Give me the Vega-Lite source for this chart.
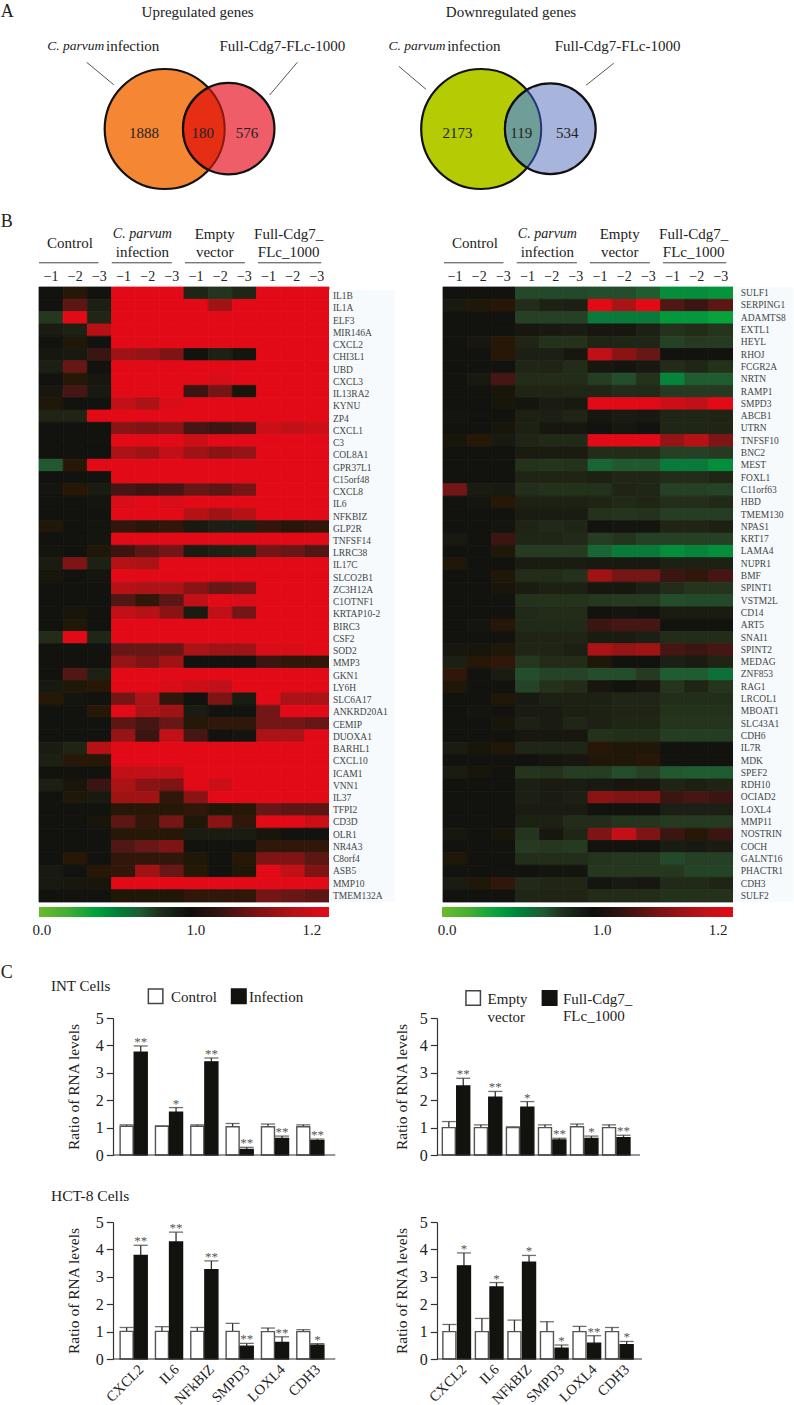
{"$schema":"https://vega.github.io/schema/vega-lite/v6.json","padding":0,"background":"#FFFFFF","bounds":"flush","spacing":0,
"config":{"font":"Liberation Serif","view":{"stroke":null},"axis":{"labelFont":"Liberation Serif","titleFont":"Liberation Serif","labelColor":"#222","titleColor":"#222","domainColor":"#333","tickColor":"#333","grid":false,"titleFontWeight":"normal"},"text":{"font":"Liberation Serif","color":"#222"}},
"datasets":{"heatL":[
{"g":"IL1B","c":1,"v":1},{"g":"IL1B","c":2,"v":1.03},{"g":"IL1B","c":3,"v":1},{"g":"IL1B","c":4,"v":1.2},{"g":"IL1B","c":5,"v":1.2},{"g":"IL1B","c":6,"v":1.2},{"g":"IL1B","c":7,"v":0.93},{"g":"IL1B","c":8,"v":0.87},{"g":"IL1B","c":9,"v":0.92},{"g":"IL1B","c":10,"v":1.2},{"g":"IL1B","c":11,"v":1.2},{"g":"IL1B","c":12,"v":1.2},
{"g":"IL1A","c":1,"v":1},{"g":"IL1A","c":2,"v":1.08},{"g":"IL1A","c":3,"v":0.95},{"g":"IL1A","c":4,"v":1.2},{"g":"IL1A","c":5,"v":1.2},{"g":"IL1A","c":6,"v":1.2},{"g":"IL1A","c":7,"v":1.2},{"g":"IL1A","c":8,"v":1.14},{"g":"IL1A","c":9,"v":1.2},{"g":"IL1A","c":10,"v":1.2},{"g":"IL1A","c":11,"v":1.2},{"g":"IL1A","c":12,"v":1.2},
{"g":"ELF3","c":1,"v":0.86},{"g":"ELF3","c":2,"v":1.2},{"g":"ELF3","c":3,"v":0.92},{"g":"ELF3","c":4,"v":1.2},{"g":"ELF3","c":5,"v":1.2},{"g":"ELF3","c":6,"v":1.2},{"g":"ELF3","c":7,"v":1.2},{"g":"ELF3","c":8,"v":1.2},{"g":"ELF3","c":9,"v":1.2},{"g":"ELF3","c":10,"v":1.2},{"g":"ELF3","c":11,"v":1.2},{"g":"ELF3","c":12,"v":1.2},
{"g":"MIR146A","c":1,"v":0.96},{"g":"MIR146A","c":2,"v":0.94},{"g":"MIR146A","c":3,"v":1.16},{"g":"MIR146A","c":4,"v":1.2},{"g":"MIR146A","c":5,"v":1.2},{"g":"MIR146A","c":6,"v":1.2},{"g":"MIR146A","c":7,"v":1.2},{"g":"MIR146A","c":8,"v":1.2},{"g":"MIR146A","c":9,"v":1.2},{"g":"MIR146A","c":10,"v":1.2},{"g":"MIR146A","c":11,"v":1.2},{"g":"MIR146A","c":12,"v":1.2},
{"g":"CXCL2","c":1,"v":1},{"g":"CXCL2","c":2,"v":1.02},{"g":"CXCL2","c":3,"v":1},{"g":"CXCL2","c":4,"v":1.2},{"g":"CXCL2","c":5,"v":1.2},{"g":"CXCL2","c":6,"v":1.2},{"g":"CXCL2","c":7,"v":1.2},{"g":"CXCL2","c":8,"v":1.2},{"g":"CXCL2","c":9,"v":1.2},{"g":"CXCL2","c":10,"v":1.2},{"g":"CXCL2","c":11,"v":1.2},{"g":"CXCL2","c":12,"v":1.2},
{"g":"CHI3L1","c":1,"v":0.98},{"g":"CHI3L1","c":2,"v":0.97},{"g":"CHI3L1","c":3,"v":1.05},{"g":"CHI3L1","c":4,"v":1.14},{"g":"CHI3L1","c":5,"v":1.13},{"g":"CHI3L1","c":6,"v":1.11},{"g":"CHI3L1","c":7,"v":1},{"g":"CHI3L1","c":8,"v":0.94},{"g":"CHI3L1","c":9,"v":0.99},{"g":"CHI3L1","c":10,"v":1.2},{"g":"CHI3L1","c":11,"v":1.2},{"g":"CHI3L1","c":12,"v":1.2},
{"g":"UBD","c":1,"v":0.95},{"g":"UBD","c":2,"v":1.09},{"g":"UBD","c":3,"v":1},{"g":"UBD","c":4,"v":1.2},{"g":"UBD","c":5,"v":1.2},{"g":"UBD","c":6,"v":1.2},{"g":"UBD","c":7,"v":1.2},{"g":"UBD","c":8,"v":1.2},{"g":"UBD","c":9,"v":1.2},{"g":"UBD","c":10,"v":1.2},{"g":"UBD","c":11,"v":1.2},{"g":"UBD","c":12,"v":1.2},
{"g":"CXCL3","c":1,"v":1},{"g":"CXCL3","c":2,"v":1.03},{"g":"CXCL3","c":3,"v":0.98},{"g":"CXCL3","c":4,"v":1.2},{"g":"CXCL3","c":5,"v":1.2},{"g":"CXCL3","c":6,"v":1.2},{"g":"CXCL3","c":7,"v":1.2},{"g":"CXCL3","c":8,"v":1.19},{"g":"CXCL3","c":9,"v":1.2},{"g":"CXCL3","c":10,"v":1.2},{"g":"CXCL3","c":11,"v":1.2},{"g":"CXCL3","c":12,"v":1.2},
{"g":"IL13RA2","c":1,"v":0.98},{"g":"IL13RA2","c":2,"v":1.06},{"g":"IL13RA2","c":3,"v":0.97},{"g":"IL13RA2","c":4,"v":1.2},{"g":"IL13RA2","c":5,"v":1.2},{"g":"IL13RA2","c":6,"v":1.2},{"g":"IL13RA2","c":7,"v":1.05},{"g":"IL13RA2","c":8,"v":1.1},{"g":"IL13RA2","c":9,"v":1.01},{"g":"IL13RA2","c":10,"v":1.2},{"g":"IL13RA2","c":11,"v":1.2},{"g":"IL13RA2","c":12,"v":1.2},
{"g":"KYNU","c":1,"v":1.02},{"g":"KYNU","c":2,"v":1},{"g":"KYNU","c":3,"v":1},{"g":"KYNU","c":4,"v":1.17},{"g":"KYNU","c":5,"v":1.15},{"g":"KYNU","c":6,"v":1.19},{"g":"KYNU","c":7,"v":1.2},{"g":"KYNU","c":8,"v":1.2},{"g":"KYNU","c":9,"v":1.2},{"g":"KYNU","c":10,"v":1.2},{"g":"KYNU","c":11,"v":1.2},{"g":"KYNU","c":12,"v":1.2},
{"g":"ZP4","c":1,"v":0.93},{"g":"ZP4","c":2,"v":0.93},{"g":"ZP4","c":3,"v":1.2},{"g":"ZP4","c":4,"v":1.2},{"g":"ZP4","c":5,"v":1.2},{"g":"ZP4","c":6,"v":1.2},{"g":"ZP4","c":7,"v":1.2},{"g":"ZP4","c":8,"v":1.2},{"g":"ZP4","c":9,"v":1.2},{"g":"ZP4","c":10,"v":1.2},{"g":"ZP4","c":11,"v":1.2},{"g":"ZP4","c":12,"v":1.2},
{"g":"CXCL1","c":1,"v":1},{"g":"CXCL1","c":2,"v":1},{"g":"CXCL1","c":3,"v":1},{"g":"CXCL1","c":4,"v":1.12},{"g":"CXCL1","c":5,"v":1.11},{"g":"CXCL1","c":6,"v":1.12},{"g":"CXCL1","c":7,"v":1.06},{"g":"CXCL1","c":8,"v":1.05},{"g":"CXCL1","c":9,"v":1.06},{"g":"CXCL1","c":10,"v":1.18},{"g":"CXCL1","c":11,"v":1.17},{"g":"CXCL1","c":12,"v":1.18},
{"g":"C3","c":1,"v":1},{"g":"C3","c":2,"v":1},{"g":"C3","c":3,"v":1},{"g":"C3","c":4,"v":1.2},{"g":"C3","c":5,"v":1.2},{"g":"C3","c":6,"v":1.2},{"g":"C3","c":7,"v":1.18},{"g":"C3","c":8,"v":1.2},{"g":"C3","c":9,"v":1.2},{"g":"C3","c":10,"v":1.2},{"g":"C3","c":11,"v":1.2},{"g":"C3","c":12,"v":1.2},
{"g":"COL8A1","c":1,"v":1},{"g":"COL8A1","c":2,"v":1},{"g":"COL8A1","c":3,"v":1},{"g":"COL8A1","c":4,"v":1.15},{"g":"COL8A1","c":5,"v":1.14},{"g":"COL8A1","c":6,"v":1.17},{"g":"COL8A1","c":7,"v":1.14},{"g":"COL8A1","c":8,"v":1.12},{"g":"COL8A1","c":9,"v":1.13},{"g":"COL8A1","c":10,"v":1.2},{"g":"COL8A1","c":11,"v":1.2},{"g":"COL8A1","c":12,"v":1.2},
{"g":"GPR37L1","c":1,"v":0.72},{"g":"GPR37L1","c":2,"v":1.03},{"g":"GPR37L1","c":3,"v":1.2},{"g":"GPR37L1","c":4,"v":1.2},{"g":"GPR37L1","c":5,"v":1.2},{"g":"GPR37L1","c":6,"v":1.2},{"g":"GPR37L1","c":7,"v":1.2},{"g":"GPR37L1","c":8,"v":1.2},{"g":"GPR37L1","c":9,"v":1.2},{"g":"GPR37L1","c":10,"v":1.2},{"g":"GPR37L1","c":11,"v":1.2},{"g":"GPR37L1","c":12,"v":1.2},
{"g":"C15orf48","c":1,"v":1},{"g":"C15orf48","c":2,"v":1},{"g":"C15orf48","c":3,"v":1},{"g":"C15orf48","c":4,"v":1.2},{"g":"C15orf48","c":5,"v":1.2},{"g":"C15orf48","c":6,"v":1.2},{"g":"C15orf48","c":7,"v":1.2},{"g":"C15orf48","c":8,"v":1.2},{"g":"C15orf48","c":9,"v":1.2},{"g":"C15orf48","c":10,"v":1.2},{"g":"C15orf48","c":11,"v":1.2},{"g":"C15orf48","c":12,"v":1.2},
{"g":"CXCL8","c":1,"v":0.99},{"g":"CXCL8","c":2,"v":1.03},{"g":"CXCL8","c":3,"v":0.96},{"g":"CXCL8","c":4,"v":1.06},{"g":"CXCL8","c":5,"v":1.05},{"g":"CXCL8","c":6,"v":1.06},{"g":"CXCL8","c":7,"v":1.09},{"g":"CXCL8","c":8,"v":1.08},{"g":"CXCL8","c":9,"v":1.1},{"g":"CXCL8","c":10,"v":1.2},{"g":"CXCL8","c":11,"v":1.2},{"g":"CXCL8","c":12,"v":1.2},
{"g":"IL6","c":1,"v":1},{"g":"IL6","c":2,"v":1},{"g":"IL6","c":3,"v":0.99},{"g":"IL6","c":4,"v":1.19},{"g":"IL6","c":5,"v":1.2},{"g":"IL6","c":6,"v":1.19},{"g":"IL6","c":7,"v":1.2},{"g":"IL6","c":8,"v":1.2},{"g":"IL6","c":9,"v":1.2},{"g":"IL6","c":10,"v":1.2},{"g":"IL6","c":11,"v":1.2},{"g":"IL6","c":12,"v":1.2},
{"g":"NFKBIZ","c":1,"v":1},{"g":"NFKBIZ","c":2,"v":1},{"g":"NFKBIZ","c":3,"v":1},{"g":"NFKBIZ","c":4,"v":1.2},{"g":"NFKBIZ","c":5,"v":1.2},{"g":"NFKBIZ","c":6,"v":1.2},{"g":"NFKBIZ","c":7,"v":1.16},{"g":"NFKBIZ","c":8,"v":1.14},{"g":"NFKBIZ","c":9,"v":1.16},{"g":"NFKBIZ","c":10,"v":1.2},{"g":"NFKBIZ","c":11,"v":1.2},{"g":"NFKBIZ","c":12,"v":1.2},
{"g":"GLP2R","c":1,"v":1.02},{"g":"GLP2R","c":2,"v":1},{"g":"GLP2R","c":3,"v":0.99},{"g":"GLP2R","c":4,"v":1.04},{"g":"GLP2R","c":5,"v":1.03},{"g":"GLP2R","c":6,"v":1.04},{"g":"GLP2R","c":7,"v":0.97},{"g":"GLP2R","c":8,"v":0.95},{"g":"GLP2R","c":9,"v":0.95},{"g":"GLP2R","c":10,"v":1.04},{"g":"GLP2R","c":11,"v":1.03},{"g":"GLP2R","c":12,"v":1.04},
{"g":"TNFSF14","c":1,"v":1},{"g":"TNFSF14","c":2,"v":1},{"g":"TNFSF14","c":3,"v":0.99},{"g":"TNFSF14","c":4,"v":1.2},{"g":"TNFSF14","c":5,"v":1.2},{"g":"TNFSF14","c":6,"v":1.2},{"g":"TNFSF14","c":7,"v":1.2},{"g":"TNFSF14","c":8,"v":1.2},{"g":"TNFSF14","c":9,"v":1.2},{"g":"TNFSF14","c":10,"v":1.2},{"g":"TNFSF14","c":11,"v":1.2},{"g":"TNFSF14","c":12,"v":1.2},
{"g":"LRRC38","c":1,"v":0.99},{"g":"LRRC38","c":2,"v":1},{"g":"LRRC38","c":3,"v":1.02},{"g":"LRRC38","c":4,"v":1.05},{"g":"LRRC38","c":5,"v":1.08},{"g":"LRRC38","c":6,"v":1.1},{"g":"LRRC38","c":7,"v":0.96},{"g":"LRRC38","c":8,"v":0.94},{"g":"LRRC38","c":9,"v":0.93},{"g":"LRRC38","c":10,"v":1.1},{"g":"LRRC38","c":11,"v":1.09},{"g":"LRRC38","c":12,"v":1.07},
{"g":"IL17C","c":1,"v":0.96},{"g":"IL17C","c":2,"v":1.11},{"g":"IL17C","c":3,"v":0.94},{"g":"IL17C","c":4,"v":1.16},{"g":"IL17C","c":5,"v":1.15},{"g":"IL17C","c":6,"v":1.2},{"g":"IL17C","c":7,"v":1.2},{"g":"IL17C","c":8,"v":1.2},{"g":"IL17C","c":9,"v":1.2},{"g":"IL17C","c":10,"v":1.2},{"g":"IL17C","c":11,"v":1.2},{"g":"IL17C","c":12,"v":1.2},
{"g":"SLCO2B1","c":1,"v":1.01},{"g":"SLCO2B1","c":2,"v":1},{"g":"SLCO2B1","c":3,"v":0.99},{"g":"SLCO2B1","c":4,"v":1.2},{"g":"SLCO2B1","c":5,"v":1.2},{"g":"SLCO2B1","c":6,"v":1.2},{"g":"SLCO2B1","c":7,"v":1.2},{"g":"SLCO2B1","c":8,"v":1.2},{"g":"SLCO2B1","c":9,"v":1.2},{"g":"SLCO2B1","c":10,"v":1.2},{"g":"SLCO2B1","c":11,"v":1.2},{"g":"SLCO2B1","c":12,"v":1.2},
{"g":"ZC3H12A","c":1,"v":1},{"g":"ZC3H12A","c":2,"v":1},{"g":"ZC3H12A","c":3,"v":1},{"g":"ZC3H12A","c":4,"v":1.16},{"g":"ZC3H12A","c":5,"v":1.15},{"g":"ZC3H12A","c":6,"v":1.15},{"g":"ZC3H12A","c":7,"v":1.12},{"g":"ZC3H12A","c":8,"v":1.09},{"g":"ZC3H12A","c":9,"v":1.1},{"g":"ZC3H12A","c":10,"v":1.2},{"g":"ZC3H12A","c":11,"v":1.2},{"g":"ZC3H12A","c":12,"v":1.2},
{"g":"C1OTNF1","c":1,"v":1},{"g":"C1OTNF1","c":2,"v":1},{"g":"C1OTNF1","c":3,"v":1},{"g":"C1OTNF1","c":4,"v":1.07},{"g":"C1OTNF1","c":5,"v":1.04},{"g":"C1OTNF1","c":6,"v":1.08},{"g":"C1OTNF1","c":7,"v":1.17},{"g":"C1OTNF1","c":8,"v":1.2},{"g":"C1OTNF1","c":9,"v":1.19},{"g":"C1OTNF1","c":10,"v":1.2},{"g":"C1OTNF1","c":11,"v":1.2},{"g":"C1OTNF1","c":12,"v":1.2},
{"g":"KRTAP10-2","c":1,"v":1},{"g":"KRTAP10-2","c":2,"v":1.01},{"g":"KRTAP10-2","c":3,"v":1},{"g":"KRTAP10-2","c":4,"v":1.17},{"g":"KRTAP10-2","c":5,"v":1.16},{"g":"KRTAP10-2","c":6,"v":1.12},{"g":"KRTAP10-2","c":7,"v":0.96},{"g":"KRTAP10-2","c":8,"v":1.17},{"g":"KRTAP10-2","c":9,"v":1.1},{"g":"KRTAP10-2","c":10,"v":1.2},{"g":"KRTAP10-2","c":11,"v":1.2},{"g":"KRTAP10-2","c":12,"v":1.2},
{"g":"BIRC3","c":1,"v":1},{"g":"BIRC3","c":2,"v":1.02},{"g":"BIRC3","c":3,"v":1},{"g":"BIRC3","c":4,"v":1.2},{"g":"BIRC3","c":5,"v":1.2},{"g":"BIRC3","c":6,"v":1.2},{"g":"BIRC3","c":7,"v":1.2},{"g":"BIRC3","c":8,"v":1.2},{"g":"BIRC3","c":9,"v":1.2},{"g":"BIRC3","c":10,"v":1.2},{"g":"BIRC3","c":11,"v":1.2},{"g":"BIRC3","c":12,"v":1.2},
{"g":"CSF2","c":1,"v":0.9},{"g":"CSF2","c":2,"v":1.2},{"g":"CSF2","c":3,"v":0.92},{"g":"CSF2","c":4,"v":1.2},{"g":"CSF2","c":5,"v":1.2},{"g":"CSF2","c":6,"v":1.2},{"g":"CSF2","c":7,"v":1.2},{"g":"CSF2","c":8,"v":1.2},{"g":"CSF2","c":9,"v":1.2},{"g":"CSF2","c":10,"v":1.2},{"g":"CSF2","c":11,"v":1.2},{"g":"CSF2","c":12,"v":1.2},
{"g":"SOD2","c":1,"v":1},{"g":"SOD2","c":2,"v":1},{"g":"SOD2","c":3,"v":1},{"g":"SOD2","c":4,"v":1.09},{"g":"SOD2","c":5,"v":1.09},{"g":"SOD2","c":6,"v":1.09},{"g":"SOD2","c":7,"v":1.15},{"g":"SOD2","c":8,"v":1.14},{"g":"SOD2","c":9,"v":1.14},{"g":"SOD2","c":10,"v":1.19},{"g":"SOD2","c":11,"v":1.19},{"g":"SOD2","c":12,"v":1.2},
{"g":"MMP3","c":1,"v":1},{"g":"MMP3","c":2,"v":1},{"g":"MMP3","c":3,"v":1},{"g":"MMP3","c":4,"v":1.13},{"g":"MMP3","c":5,"v":1.11},{"g":"MMP3","c":6,"v":1.14},{"g":"MMP3","c":7,"v":1},{"g":"MMP3","c":8,"v":1},{"g":"MMP3","c":9,"v":1},{"g":"MMP3","c":10,"v":1.05},{"g":"MMP3","c":11,"v":1.04},{"g":"MMP3","c":12,"v":1.04},
{"g":"GKN1","c":1,"v":1},{"g":"GKN1","c":2,"v":1.07},{"g":"GKN1","c":3,"v":0.94},{"g":"GKN1","c":4,"v":1.2},{"g":"GKN1","c":5,"v":1.2},{"g":"GKN1","c":6,"v":1.2},{"g":"GKN1","c":7,"v":1.2},{"g":"GKN1","c":8,"v":1.2},{"g":"GKN1","c":9,"v":1.2},{"g":"GKN1","c":10,"v":1.2},{"g":"GKN1","c":11,"v":1.2},{"g":"GKN1","c":12,"v":1.2},
{"g":"LY6H","c":1,"v":0.97},{"g":"LY6H","c":2,"v":1.02},{"g":"LY6H","c":3,"v":1.03},{"g":"LY6H","c":4,"v":1.2},{"g":"LY6H","c":5,"v":1.2},{"g":"LY6H","c":6,"v":1.19},{"g":"LY6H","c":7,"v":1.18},{"g":"LY6H","c":8,"v":1.17},{"g":"LY6H","c":9,"v":1.2},{"g":"LY6H","c":10,"v":1.2},{"g":"LY6H","c":11,"v":1.2},{"g":"LY6H","c":12,"v":1.2},
{"g":"SLC6A17","c":1,"v":1.03},{"g":"SLC6A17","c":2,"v":0.99},{"g":"SLC6A17","c":3,"v":1},{"g":"SLC6A17","c":4,"v":1.1},{"g":"SLC6A17","c":5,"v":1.15},{"g":"SLC6A17","c":6,"v":1.04},{"g":"SLC6A17","c":7,"v":1},{"g":"SLC6A17","c":8,"v":1.11},{"g":"SLC6A17","c":9,"v":0.96},{"g":"SLC6A17","c":10,"v":1.2},{"g":"SLC6A17","c":11,"v":1.15},{"g":"SLC6A17","c":12,"v":1.15},
{"g":"ANKRD20A1","c":1,"v":1},{"g":"ANKRD20A1","c":2,"v":1},{"g":"ANKRD20A1","c":3,"v":1.03},{"g":"ANKRD20A1","c":4,"v":1.2},{"g":"ANKRD20A1","c":5,"v":1.15},{"g":"ANKRD20A1","c":6,"v":1.14},{"g":"ANKRD20A1","c":7,"v":0.96},{"g":"ANKRD20A1","c":8,"v":1},{"g":"ANKRD20A1","c":9,"v":1},{"g":"ANKRD20A1","c":10,"v":1.1},{"g":"ANKRD20A1","c":11,"v":1.2},{"g":"ANKRD20A1","c":12,"v":1.2},
{"g":"CEMIP","c":1,"v":1},{"g":"CEMIP","c":2,"v":1},{"g":"CEMIP","c":3,"v":1},{"g":"CEMIP","c":4,"v":1.08},{"g":"CEMIP","c":5,"v":1.06},{"g":"CEMIP","c":6,"v":1.09},{"g":"CEMIP","c":7,"v":1.03},{"g":"CEMIP","c":8,"v":1.04},{"g":"CEMIP","c":9,"v":1.04},{"g":"CEMIP","c":10,"v":1.1},{"g":"CEMIP","c":11,"v":1.1},{"g":"CEMIP","c":12,"v":1.09},
{"g":"DUOXA1","c":1,"v":1},{"g":"DUOXA1","c":2,"v":1},{"g":"DUOXA1","c":3,"v":1},{"g":"DUOXA1","c":4,"v":1.13},{"g":"DUOXA1","c":5,"v":1.05},{"g":"DUOXA1","c":6,"v":1.17},{"g":"DUOXA1","c":7,"v":1.06},{"g":"DUOXA1","c":8,"v":1},{"g":"DUOXA1","c":9,"v":0.99},{"g":"DUOXA1","c":10,"v":1.15},{"g":"DUOXA1","c":11,"v":1.15},{"g":"DUOXA1","c":12,"v":1.2},
{"g":"BARHL1","c":1,"v":0.96},{"g":"BARHL1","c":2,"v":0.93},{"g":"BARHL1","c":3,"v":1.16},{"g":"BARHL1","c":4,"v":1.2},{"g":"BARHL1","c":5,"v":1.2},{"g":"BARHL1","c":6,"v":1.2},{"g":"BARHL1","c":7,"v":1.2},{"g":"BARHL1","c":8,"v":1.2},{"g":"BARHL1","c":9,"v":1.2},{"g":"BARHL1","c":10,"v":1.2},{"g":"BARHL1","c":11,"v":1.2},{"g":"BARHL1","c":12,"v":1.2},
{"g":"CXCL10","c":1,"v":0.95},{"g":"CXCL10","c":2,"v":1.03},{"g":"CXCL10","c":3,"v":1.03},{"g":"CXCL10","c":4,"v":1.2},{"g":"CXCL10","c":5,"v":1.2},{"g":"CXCL10","c":6,"v":1.2},{"g":"CXCL10","c":7,"v":1.2},{"g":"CXCL10","c":8,"v":1.2},{"g":"CXCL10","c":9,"v":1.2},{"g":"CXCL10","c":10,"v":1.2},{"g":"CXCL10","c":11,"v":1.2},{"g":"CXCL10","c":12,"v":1.2},
{"g":"ICAM1","c":1,"v":1},{"g":"ICAM1","c":2,"v":1},{"g":"ICAM1","c":3,"v":1},{"g":"ICAM1","c":4,"v":1.17},{"g":"ICAM1","c":5,"v":1.17},{"g":"ICAM1","c":6,"v":1.17},{"g":"ICAM1","c":7,"v":1.2},{"g":"ICAM1","c":8,"v":1.2},{"g":"ICAM1","c":9,"v":1.2},{"g":"ICAM1","c":10,"v":1.2},{"g":"ICAM1","c":11,"v":1.2},{"g":"ICAM1","c":12,"v":1.2},
{"g":"VNN1","c":1,"v":0.95},{"g":"VNN1","c":2,"v":1.01},{"g":"VNN1","c":3,"v":1.05},{"g":"VNN1","c":4,"v":1.15},{"g":"VNN1","c":5,"v":1.12},{"g":"VNN1","c":6,"v":1.11},{"g":"VNN1","c":7,"v":1.2},{"g":"VNN1","c":8,"v":1.18},{"g":"VNN1","c":9,"v":1.2},{"g":"VNN1","c":10,"v":1.2},{"g":"VNN1","c":11,"v":1.2},{"g":"VNN1","c":12,"v":1.2},
{"g":"IL37","c":1,"v":1},{"g":"IL37","c":2,"v":1.02},{"g":"IL37","c":3,"v":0.97},{"g":"IL37","c":4,"v":1.14},{"g":"IL37","c":5,"v":1.14},{"g":"IL37","c":6,"v":1.04},{"g":"IL37","c":7,"v":1.12},{"g":"IL37","c":8,"v":1.2},{"g":"IL37","c":9,"v":1.2},{"g":"IL37","c":10,"v":1.2},{"g":"IL37","c":11,"v":1.2},{"g":"IL37","c":12,"v":1.2},
{"g":"TFPI2","c":1,"v":1},{"g":"TFPI2","c":2,"v":1},{"g":"TFPI2","c":3,"v":1},{"g":"TFPI2","c":4,"v":1.03},{"g":"TFPI2","c":5,"v":1.03},{"g":"TFPI2","c":6,"v":1.03},{"g":"TFPI2","c":7,"v":1.04},{"g":"TFPI2","c":8,"v":1.02},{"g":"TFPI2","c":9,"v":1.03},{"g":"TFPI2","c":10,"v":1.09},{"g":"TFPI2","c":11,"v":1.08},{"g":"TFPI2","c":12,"v":1.08},
{"g":"CD3D","c":1,"v":1},{"g":"CD3D","c":2,"v":1},{"g":"CD3D","c":3,"v":1.01},{"g":"CD3D","c":4,"v":1.08},{"g":"CD3D","c":5,"v":1.04},{"g":"CD3D","c":6,"v":1.1},{"g":"CD3D","c":7,"v":1.02},{"g":"CD3D","c":8,"v":1.12},{"g":"CD3D","c":9,"v":1.04},{"g":"CD3D","c":10,"v":1.2},{"g":"CD3D","c":11,"v":1.2},{"g":"CD3D","c":12,"v":1.18},
{"g":"OLR1","c":1,"v":1},{"g":"OLR1","c":2,"v":1},{"g":"OLR1","c":3,"v":1},{"g":"OLR1","c":4,"v":1.03},{"g":"OLR1","c":5,"v":1.03},{"g":"OLR1","c":6,"v":1.03},{"g":"OLR1","c":7,"v":0.96},{"g":"OLR1","c":8,"v":0.96},{"g":"OLR1","c":9,"v":0.96},{"g":"OLR1","c":10,"v":1.01},{"g":"OLR1","c":11,"v":1},{"g":"OLR1","c":12,"v":1},
{"g":"NR4A3","c":1,"v":1},{"g":"NR4A3","c":2,"v":1},{"g":"NR4A3","c":3,"v":1},{"g":"NR4A3","c":4,"v":1.07},{"g":"NR4A3","c":5,"v":1.09},{"g":"NR4A3","c":6,"v":1.11},{"g":"NR4A3","c":7,"v":1},{"g":"NR4A3","c":8,"v":1},{"g":"NR4A3","c":9,"v":1},{"g":"NR4A3","c":10,"v":1.04},{"g":"NR4A3","c":11,"v":1.04},{"g":"NR4A3","c":12,"v":1.04},
{"g":"C8orf4","c":1,"v":1},{"g":"C8orf4","c":2,"v":1.03},{"g":"C8orf4","c":3,"v":1},{"g":"C8orf4","c":4,"v":1.04},{"g":"C8orf4","c":5,"v":1.04},{"g":"C8orf4","c":6,"v":1.04},{"g":"C8orf4","c":7,"v":1.02},{"g":"C8orf4","c":8,"v":1},{"g":"C8orf4","c":9,"v":1.03},{"g":"C8orf4","c":10,"v":1.11},{"g":"C8orf4","c":11,"v":1.11},{"g":"C8orf4","c":12,"v":1.08},
{"g":"ASB5","c":1,"v":0.97},{"g":"ASB5","c":2,"v":1},{"g":"ASB5","c":3,"v":1.03},{"g":"ASB5","c":4,"v":1.04},{"g":"ASB5","c":5,"v":1.14},{"g":"ASB5","c":6,"v":1.09},{"g":"ASB5","c":7,"v":1.03},{"g":"ASB5","c":8,"v":1},{"g":"ASB5","c":9,"v":1.02},{"g":"ASB5","c":10,"v":1.2},{"g":"ASB5","c":11,"v":1.17},{"g":"ASB5","c":12,"v":1.11},
{"g":"MMP10","c":1,"v":0.97},{"g":"MMP10","c":2,"v":0.98},{"g":"MMP10","c":3,"v":1.01},{"g":"MMP10","c":4,"v":1.2},{"g":"MMP10","c":5,"v":1.2},{"g":"MMP10","c":6,"v":1.2},{"g":"MMP10","c":7,"v":1.2},{"g":"MMP10","c":8,"v":1.2},{"g":"MMP10","c":9,"v":1.2},{"g":"MMP10","c":10,"v":1.2},{"g":"MMP10","c":11,"v":1.2},{"g":"MMP10","c":12,"v":1.2},
{"g":"TMEM132A","c":1,"v":1},{"g":"TMEM132A","c":2,"v":1},{"g":"TMEM132A","c":3,"v":1},{"g":"TMEM132A","c":4,"v":1.02},{"g":"TMEM132A","c":5,"v":1.02},{"g":"TMEM132A","c":6,"v":1.02},{"g":"TMEM132A","c":7,"v":1.04},{"g":"TMEM132A","c":8,"v":1.04},{"g":"TMEM132A","c":9,"v":1.04},{"g":"TMEM132A","c":10,"v":1.1},{"g":"TMEM132A","c":11,"v":1.09},{"g":"TMEM132A","c":12,"v":1.08}],
"heatR":[
{"g":"SULF1","c":1,"v":1},{"g":"SULF1","c":2,"v":1},{"g":"SULF1","c":3,"v":1},{"g":"SULF1","c":4,"v":0.8},{"g":"SULF1","c":5,"v":0.8},{"g":"SULF1","c":6,"v":0.8},{"g":"SULF1","c":7,"v":0.78},{"g":"SULF1","c":8,"v":0.78},{"g":"SULF1","c":9,"v":0.7},{"g":"SULF1","c":10,"v":0.45},{"g":"SULF1","c":11,"v":0.45},{"g":"SULF1","c":12,"v":0.42},
{"g":"SERPING1","c":1,"v":0.97},{"g":"SERPING1","c":2,"v":1.02},{"g":"SERPING1","c":3,"v":1.03},{"g":"SERPING1","c":4,"v":0.9},{"g":"SERPING1","c":5,"v":0.94},{"g":"SERPING1","c":6,"v":0.95},{"g":"SERPING1","c":7,"v":1.2},{"g":"SERPING1","c":8,"v":1.15},{"g":"SERPING1","c":9,"v":1.2},{"g":"SERPING1","c":10,"v":1.07},{"g":"SERPING1","c":11,"v":1.05},{"g":"SERPING1","c":12,"v":1.08},
{"g":"ADAMTS8","c":1,"v":1},{"g":"ADAMTS8","c":2,"v":1},{"g":"ADAMTS8","c":3,"v":1},{"g":"ADAMTS8","c":4,"v":0.83},{"g":"ADAMTS8","c":5,"v":0.83},{"g":"ADAMTS8","c":6,"v":0.83},{"g":"ADAMTS8","c":7,"v":0.55},{"g":"ADAMTS8","c":8,"v":0.55},{"g":"ADAMTS8","c":9,"v":0.55},{"g":"ADAMTS8","c":10,"v":0.4},{"g":"ADAMTS8","c":11,"v":0.4},{"g":"ADAMTS8","c":12,"v":0.35},
{"g":"EXTL1","c":1,"v":1},{"g":"EXTL1","c":2,"v":1},{"g":"EXTL1","c":3,"v":1},{"g":"EXTL1","c":4,"v":0.98},{"g":"EXTL1","c":5,"v":0.97},{"g":"EXTL1","c":6,"v":0.96},{"g":"EXTL1","c":7,"v":0.98},{"g":"EXTL1","c":8,"v":0.98},{"g":"EXTL1","c":9,"v":0.94},{"g":"EXTL1","c":10,"v":0.88},{"g":"EXTL1","c":11,"v":0.9},{"g":"EXTL1","c":12,"v":0.87},
{"g":"HEYL","c":1,"v":1},{"g":"HEYL","c":2,"v":0.98},{"g":"HEYL","c":3,"v":1.03},{"g":"HEYL","c":4,"v":0.93},{"g":"HEYL","c":5,"v":0.88},{"g":"HEYL","c":6,"v":0.88},{"g":"HEYL","c":7,"v":0.93},{"g":"HEYL","c":8,"v":0.92},{"g":"HEYL","c":9,"v":0.92},{"g":"HEYL","c":10,"v":0.83},{"g":"HEYL","c":11,"v":0.85},{"g":"HEYL","c":12,"v":0.85},
{"g":"RHOJ","c":1,"v":1},{"g":"RHOJ","c":2,"v":1},{"g":"RHOJ","c":3,"v":1.03},{"g":"RHOJ","c":4,"v":0.95},{"g":"RHOJ","c":5,"v":0.95},{"g":"RHOJ","c":6,"v":0.98},{"g":"RHOJ","c":7,"v":1.17},{"g":"RHOJ","c":8,"v":1.12},{"g":"RHOJ","c":9,"v":1.09},{"g":"RHOJ","c":10,"v":1},{"g":"RHOJ","c":11,"v":1},{"g":"RHOJ","c":12,"v":1},
{"g":"FCGR2A","c":1,"v":1},{"g":"FCGR2A","c":2,"v":1},{"g":"FCGR2A","c":3,"v":1},{"g":"FCGR2A","c":4,"v":0.92},{"g":"FCGR2A","c":5,"v":0.93},{"g":"FCGR2A","c":6,"v":0.9},{"g":"FCGR2A","c":7,"v":0.98},{"g":"FCGR2A","c":8,"v":0.99},{"g":"FCGR2A","c":9,"v":0.97},{"g":"FCGR2A","c":10,"v":0.9},{"g":"FCGR2A","c":11,"v":0.92},{"g":"FCGR2A","c":12,"v":0.88},
{"g":"NRTN","c":1,"v":1},{"g":"NRTN","c":2,"v":0.97},{"g":"NRTN","c":3,"v":1.06},{"g":"NRTN","c":4,"v":0.9},{"g":"NRTN","c":5,"v":0.9},{"g":"NRTN","c":6,"v":0.9},{"g":"NRTN","c":7,"v":0.84},{"g":"NRTN","c":8,"v":0.78},{"g":"NRTN","c":9,"v":0.88},{"g":"NRTN","c":10,"v":0.5},{"g":"NRTN","c":11,"v":0.7},{"g":"NRTN","c":12,"v":0.7},
{"g":"RAMP1","c":1,"v":1},{"g":"RAMP1","c":2,"v":1},{"g":"RAMP1","c":3,"v":1.01},{"g":"RAMP1","c":4,"v":0.93},{"g":"RAMP1","c":5,"v":0.93},{"g":"RAMP1","c":6,"v":0.92},{"g":"RAMP1","c":7,"v":0.92},{"g":"RAMP1","c":8,"v":0.9},{"g":"RAMP1","c":9,"v":0.91},{"g":"RAMP1","c":10,"v":0.85},{"g":"RAMP1","c":11,"v":0.85},{"g":"RAMP1","c":12,"v":0.85},
{"g":"SMPD3","c":1,"v":1},{"g":"SMPD3","c":2,"v":1},{"g":"SMPD3","c":3,"v":1.01},{"g":"SMPD3","c":4,"v":0.99},{"g":"SMPD3","c":5,"v":0.96},{"g":"SMPD3","c":6,"v":0.97},{"g":"SMPD3","c":7,"v":1.2},{"g":"SMPD3","c":8,"v":1.2},{"g":"SMPD3","c":9,"v":1.2},{"g":"SMPD3","c":10,"v":1.18},{"g":"SMPD3","c":11,"v":1.17},{"g":"SMPD3","c":12,"v":1.2},
{"g":"ABCB1","c":1,"v":0.99},{"g":"ABCB1","c":2,"v":1},{"g":"ABCB1","c":3,"v":1},{"g":"ABCB1","c":4,"v":0.94},{"g":"ABCB1","c":5,"v":0.95},{"g":"ABCB1","c":6,"v":0.93},{"g":"ABCB1","c":7,"v":0.98},{"g":"ABCB1","c":8,"v":0.96},{"g":"ABCB1","c":9,"v":0.97},{"g":"ABCB1","c":10,"v":0.92},{"g":"ABCB1","c":11,"v":0.92},{"g":"ABCB1","c":12,"v":0.93},
{"g":"UTRN","c":1,"v":1},{"g":"UTRN","c":2,"v":1},{"g":"UTRN","c":3,"v":1.01},{"g":"UTRN","c":4,"v":0.94},{"g":"UTRN","c":5,"v":0.98},{"g":"UTRN","c":6,"v":0.98},{"g":"UTRN","c":7,"v":1},{"g":"UTRN","c":8,"v":0.98},{"g":"UTRN","c":9,"v":1},{"g":"UTRN","c":10,"v":0.92},{"g":"UTRN","c":11,"v":0.92},{"g":"UTRN","c":12,"v":0.93},
{"g":"TNFSF10","c":1,"v":1.01},{"g":"TNFSF10","c":2,"v":1.03},{"g":"TNFSF10","c":3,"v":0.97},{"g":"TNFSF10","c":4,"v":0.93},{"g":"TNFSF10","c":5,"v":0.91},{"g":"TNFSF10","c":6,"v":0.91},{"g":"TNFSF10","c":7,"v":1.2},{"g":"TNFSF10","c":8,"v":1.2},{"g":"TNFSF10","c":9,"v":1.2},{"g":"TNFSF10","c":10,"v":1.13},{"g":"TNFSF10","c":11,"v":1.16},{"g":"TNFSF10","c":12,"v":1.11},
{"g":"BNC2","c":1,"v":1},{"g":"BNC2","c":2,"v":1},{"g":"BNC2","c":3,"v":1},{"g":"BNC2","c":4,"v":0.96},{"g":"BNC2","c":5,"v":0.96},{"g":"BNC2","c":6,"v":0.96},{"g":"BNC2","c":7,"v":0.9},{"g":"BNC2","c":8,"v":0.9},{"g":"BNC2","c":9,"v":0.9},{"g":"BNC2","c":10,"v":0.83},{"g":"BNC2","c":11,"v":0.83},{"g":"BNC2","c":12,"v":0.85},
{"g":"MEST","c":1,"v":1},{"g":"MEST","c":2,"v":1},{"g":"MEST","c":3,"v":1},{"g":"MEST","c":4,"v":0.88},{"g":"MEST","c":5,"v":0.87},{"g":"MEST","c":6,"v":0.88},{"g":"MEST","c":7,"v":0.65},{"g":"MEST","c":8,"v":0.72},{"g":"MEST","c":9,"v":0.72},{"g":"MEST","c":10,"v":0.55},{"g":"MEST","c":11,"v":0.55},{"g":"MEST","c":12,"v":0.45},
{"g":"FOXL1","c":1,"v":1},{"g":"FOXL1","c":2,"v":1},{"g":"FOXL1","c":3,"v":1},{"g":"FOXL1","c":4,"v":0.93},{"g":"FOXL1","c":5,"v":0.93},{"g":"FOXL1","c":6,"v":0.93},{"g":"FOXL1","c":7,"v":0.94},{"g":"FOXL1","c":8,"v":0.92},{"g":"FOXL1","c":9,"v":0.92},{"g":"FOXL1","c":10,"v":0.9},{"g":"FOXL1","c":11,"v":0.9},{"g":"FOXL1","c":12,"v":0.92},
{"g":"C11orf63","c":1,"v":1.1},{"g":"C11orf63","c":2,"v":0.96},{"g":"C11orf63","c":3,"v":0.97},{"g":"C11orf63","c":4,"v":0.89},{"g":"C11orf63","c":5,"v":0.88},{"g":"C11orf63","c":6,"v":0.88},{"g":"C11orf63","c":7,"v":0.88},{"g":"C11orf63","c":8,"v":0.93},{"g":"C11orf63","c":9,"v":0.92},{"g":"C11orf63","c":10,"v":0.83},{"g":"C11orf63","c":11,"v":0.83},{"g":"C11orf63","c":12,"v":0.82},
{"g":"HBD","c":1,"v":1},{"g":"HBD","c":2,"v":0.99},{"g":"HBD","c":3,"v":1.03},{"g":"HBD","c":4,"v":0.94},{"g":"HBD","c":5,"v":0.94},{"g":"HBD","c":6,"v":0.94},{"g":"HBD","c":7,"v":0.93},{"g":"HBD","c":8,"v":0.91},{"g":"HBD","c":9,"v":0.92},{"g":"HBD","c":10,"v":0.89},{"g":"HBD","c":11,"v":0.89},{"g":"HBD","c":12,"v":0.91},
{"g":"TMEM130","c":1,"v":1},{"g":"TMEM130","c":2,"v":1},{"g":"TMEM130","c":3,"v":1},{"g":"TMEM130","c":4,"v":0.96},{"g":"TMEM130","c":5,"v":0.96},{"g":"TMEM130","c":6,"v":0.96},{"g":"TMEM130","c":7,"v":0.88},{"g":"TMEM130","c":8,"v":0.87},{"g":"TMEM130","c":9,"v":0.88},{"g":"TMEM130","c":10,"v":0.84},{"g":"TMEM130","c":11,"v":0.84},{"g":"TMEM130","c":12,"v":0.84},
{"g":"NPAS1","c":1,"v":1},{"g":"NPAS1","c":2,"v":1},{"g":"NPAS1","c":3,"v":0.99},{"g":"NPAS1","c":4,"v":0.93},{"g":"NPAS1","c":5,"v":0.91},{"g":"NPAS1","c":6,"v":0.92},{"g":"NPAS1","c":7,"v":1},{"g":"NPAS1","c":8,"v":0.99},{"g":"NPAS1","c":9,"v":0.99},{"g":"NPAS1","c":10,"v":0.93},{"g":"NPAS1","c":11,"v":0.93},{"g":"NPAS1","c":12,"v":0.94},
{"g":"KRT17","c":1,"v":0.97},{"g":"KRT17","c":2,"v":1},{"g":"KRT17","c":3,"v":1.05},{"g":"KRT17","c":4,"v":0.92},{"g":"KRT17","c":5,"v":0.92},{"g":"KRT17","c":6,"v":0.91},{"g":"KRT17","c":7,"v":0.84},{"g":"KRT17","c":8,"v":0.87},{"g":"KRT17","c":9,"v":0.83},{"g":"KRT17","c":10,"v":0.83},{"g":"KRT17","c":11,"v":0.83},{"g":"KRT17","c":12,"v":0.83},
{"g":"LAMA4","c":1,"v":1},{"g":"LAMA4","c":2,"v":1},{"g":"LAMA4","c":3,"v":1.02},{"g":"LAMA4","c":4,"v":0.85},{"g":"LAMA4","c":5,"v":0.85},{"g":"LAMA4","c":6,"v":0.85},{"g":"LAMA4","c":7,"v":0.65},{"g":"LAMA4","c":8,"v":0.55},{"g":"LAMA4","c":9,"v":0.55},{"g":"LAMA4","c":10,"v":0.45},{"g":"LAMA4","c":11,"v":0.5},{"g":"LAMA4","c":12,"v":0.45},
{"g":"NUPR1","c":1,"v":1.02},{"g":"NUPR1","c":2,"v":1},{"g":"NUPR1","c":3,"v":1},{"g":"NUPR1","c":4,"v":0.96},{"g":"NUPR1","c":5,"v":0.96},{"g":"NUPR1","c":6,"v":0.96},{"g":"NUPR1","c":7,"v":0.97},{"g":"NUPR1","c":8,"v":0.97},{"g":"NUPR1","c":9,"v":0.97},{"g":"NUPR1","c":10,"v":0.94},{"g":"NUPR1","c":11,"v":0.94},{"g":"NUPR1","c":12,"v":0.94},
{"g":"BMF","c":1,"v":1},{"g":"BMF","c":2,"v":1},{"g":"BMF","c":3,"v":1.02},{"g":"BMF","c":4,"v":0.9},{"g":"BMF","c":5,"v":0.9},{"g":"BMF","c":6,"v":0.88},{"g":"BMF","c":7,"v":1.14},{"g":"BMF","c":8,"v":1.1},{"g":"BMF","c":9,"v":1.1},{"g":"BMF","c":10,"v":1.05},{"g":"BMF","c":11,"v":1.04},{"g":"BMF","c":12,"v":1.06},
{"g":"SPINT1","c":1,"v":1},{"g":"SPINT1","c":2,"v":1},{"g":"SPINT1","c":3,"v":1.01},{"g":"SPINT1","c":4,"v":0.96},{"g":"SPINT1","c":5,"v":0.94},{"g":"SPINT1","c":6,"v":0.94},{"g":"SPINT1","c":7,"v":0.98},{"g":"SPINT1","c":8,"v":0.98},{"g":"SPINT1","c":9,"v":0.95},{"g":"SPINT1","c":10,"v":0.9},{"g":"SPINT1","c":11,"v":0.87},{"g":"SPINT1","c":12,"v":0.87},
{"g":"VSTM2L","c":1,"v":1},{"g":"VSTM2L","c":2,"v":1},{"g":"VSTM2L","c":3,"v":1},{"g":"VSTM2L","c":4,"v":0.88},{"g":"VSTM2L","c":5,"v":0.88},{"g":"VSTM2L","c":6,"v":0.88},{"g":"VSTM2L","c":7,"v":0.86},{"g":"VSTM2L","c":8,"v":0.85},{"g":"VSTM2L","c":9,"v":0.85},{"g":"VSTM2L","c":10,"v":0.78},{"g":"VSTM2L","c":11,"v":0.8},{"g":"VSTM2L","c":12,"v":0.8},
{"g":"CD14","c":1,"v":1},{"g":"CD14","c":2,"v":1},{"g":"CD14","c":3,"v":1},{"g":"CD14","c":4,"v":0.91},{"g":"CD14","c":5,"v":0.9},{"g":"CD14","c":6,"v":0.9},{"g":"CD14","c":7,"v":1},{"g":"CD14","c":8,"v":0.99},{"g":"CD14","c":9,"v":1},{"g":"CD14","c":10,"v":0.96},{"g":"CD14","c":11,"v":0.96},{"g":"CD14","c":12,"v":0.96},
{"g":"ART5","c":1,"v":1},{"g":"ART5","c":2,"v":0.99},{"g":"ART5","c":3,"v":1.03},{"g":"ART5","c":4,"v":0.91},{"g":"ART5","c":5,"v":0.91},{"g":"ART5","c":6,"v":0.91},{"g":"ART5","c":7,"v":1.05},{"g":"ART5","c":8,"v":1.06},{"g":"ART5","c":9,"v":1.06},{"g":"ART5","c":10,"v":1},{"g":"ART5","c":11,"v":1},{"g":"ART5","c":12,"v":1},
{"g":"SNAI1","c":1,"v":1},{"g":"SNAI1","c":2,"v":1},{"g":"SNAI1","c":3,"v":1},{"g":"SNAI1","c":4,"v":0.93},{"g":"SNAI1","c":5,"v":0.93},{"g":"SNAI1","c":6,"v":0.93},{"g":"SNAI1","c":7,"v":0.96},{"g":"SNAI1","c":8,"v":0.96},{"g":"SNAI1","c":9,"v":0.95},{"g":"SNAI1","c":10,"v":0.9},{"g":"SNAI1","c":11,"v":0.9},{"g":"SNAI1","c":12,"v":0.9},
{"g":"SPINT2","c":1,"v":0.98},{"g":"SPINT2","c":2,"v":1.01},{"g":"SPINT2","c":3,"v":1.02},{"g":"SPINT2","c":4,"v":0.93},{"g":"SPINT2","c":5,"v":0.93},{"g":"SPINT2","c":6,"v":0.95},{"g":"SPINT2","c":7,"v":1.15},{"g":"SPINT2","c":8,"v":1.13},{"g":"SPINT2","c":9,"v":1.14},{"g":"SPINT2","c":10,"v":1.06},{"g":"SPINT2","c":11,"v":1.05},{"g":"SPINT2","c":12,"v":1.06},
{"g":"MEDAG","c":1,"v":0.95},{"g":"MEDAG","c":2,"v":1.03},{"g":"MEDAG","c":3,"v":1.04},{"g":"MEDAG","c":4,"v":0.86},{"g":"MEDAG","c":5,"v":0.9},{"g":"MEDAG","c":6,"v":0.9},{"g":"MEDAG","c":7,"v":1.02},{"g":"MEDAG","c":8,"v":1},{"g":"MEDAG","c":9,"v":1},{"g":"MEDAG","c":10,"v":0.95},{"g":"MEDAG","c":11,"v":0.96},{"g":"MEDAG","c":12,"v":0.93},
{"g":"ZNF853","c":1,"v":1.04},{"g":"ZNF853","c":2,"v":1},{"g":"ZNF853","c":3,"v":0.96},{"g":"ZNF853","c":4,"v":0.78},{"g":"ZNF853","c":5,"v":0.82},{"g":"ZNF853","c":6,"v":0.82},{"g":"ZNF853","c":7,"v":0.78},{"g":"ZNF853","c":8,"v":0.78},{"g":"ZNF853","c":9,"v":0.85},{"g":"ZNF853","c":10,"v":0.7},{"g":"ZNF853","c":11,"v":0.7},{"g":"ZNF853","c":12,"v":0.6},
{"g":"RAG1","c":1,"v":1.02},{"g":"RAG1","c":2,"v":1},{"g":"RAG1","c":3,"v":1},{"g":"RAG1","c":4,"v":0.82},{"g":"RAG1","c":5,"v":0.88},{"g":"RAG1","c":6,"v":0.9},{"g":"RAG1","c":7,"v":0.98},{"g":"RAG1","c":8,"v":1},{"g":"RAG1","c":9,"v":0.98},{"g":"RAG1","c":10,"v":0.87},{"g":"RAG1","c":11,"v":0.93},{"g":"RAG1","c":12,"v":0.87},
{"g":"LRCOL1","c":1,"v":1},{"g":"LRCOL1","c":2,"v":1},{"g":"LRCOL1","c":3,"v":1.02},{"g":"LRCOL1","c":4,"v":0.97},{"g":"LRCOL1","c":5,"v":0.94},{"g":"LRCOL1","c":6,"v":0.94},{"g":"LRCOL1","c":7,"v":0.94},{"g":"LRCOL1","c":8,"v":0.92},{"g":"LRCOL1","c":9,"v":0.92},{"g":"LRCOL1","c":10,"v":0.89},{"g":"LRCOL1","c":11,"v":0.89},{"g":"LRCOL1","c":12,"v":0.89},
{"g":"MBOAT1","c":1,"v":1},{"g":"MBOAT1","c":2,"v":0.99},{"g":"MBOAT1","c":3,"v":1},{"g":"MBOAT1","c":4,"v":0.96},{"g":"MBOAT1","c":5,"v":0.96},{"g":"MBOAT1","c":6,"v":0.95},{"g":"MBOAT1","c":7,"v":0.94},{"g":"MBOAT1","c":8,"v":0.93},{"g":"MBOAT1","c":9,"v":0.93},{"g":"MBOAT1","c":10,"v":0.88},{"g":"MBOAT1","c":11,"v":0.88},{"g":"MBOAT1","c":12,"v":0.88},
{"g":"SLC43A1","c":1,"v":1},{"g":"SLC43A1","c":2,"v":1},{"g":"SLC43A1","c":3,"v":1.01},{"g":"SLC43A1","c":4,"v":0.94},{"g":"SLC43A1","c":5,"v":0.96},{"g":"SLC43A1","c":6,"v":0.92},{"g":"SLC43A1","c":7,"v":0.94},{"g":"SLC43A1","c":8,"v":0.92},{"g":"SLC43A1","c":9,"v":0.92},{"g":"SLC43A1","c":10,"v":0.87},{"g":"SLC43A1","c":11,"v":0.87},{"g":"SLC43A1","c":12,"v":0.87},
{"g":"CDH6","c":1,"v":1},{"g":"CDH6","c":2,"v":1},{"g":"CDH6","c":3,"v":1},{"g":"CDH6","c":4,"v":0.98},{"g":"CDH6","c":5,"v":0.98},{"g":"CDH6","c":6,"v":0.98},{"g":"CDH6","c":7,"v":0.88},{"g":"CDH6","c":8,"v":0.89},{"g":"CDH6","c":9,"v":0.89},{"g":"CDH6","c":10,"v":0.84},{"g":"CDH6","c":11,"v":0.84},{"g":"CDH6","c":12,"v":0.84},
{"g":"IL7R","c":1,"v":0.96},{"g":"IL7R","c":2,"v":1.01},{"g":"IL7R","c":3,"v":1.02},{"g":"IL7R","c":4,"v":0.92},{"g":"IL7R","c":5,"v":0.92},{"g":"IL7R","c":6,"v":0.92},{"g":"IL7R","c":7,"v":1.03},{"g":"IL7R","c":8,"v":1.02},{"g":"IL7R","c":9,"v":1.02},{"g":"IL7R","c":10,"v":1},{"g":"IL7R","c":11,"v":1},{"g":"IL7R","c":12,"v":1},
{"g":"MDK","c":1,"v":1},{"g":"MDK","c":2,"v":1},{"g":"MDK","c":3,"v":1},{"g":"MDK","c":4,"v":1},{"g":"MDK","c":5,"v":0.99},{"g":"MDK","c":6,"v":0.98},{"g":"MDK","c":7,"v":1.02},{"g":"MDK","c":8,"v":1.02},{"g":"MDK","c":9,"v":1.03},{"g":"MDK","c":10,"v":1},{"g":"MDK","c":11,"v":1},{"g":"MDK","c":12,"v":1},
{"g":"SPEF2","c":1,"v":0.96},{"g":"SPEF2","c":2,"v":1.01},{"g":"SPEF2","c":3,"v":1},{"g":"SPEF2","c":4,"v":0.87},{"g":"SPEF2","c":5,"v":0.88},{"g":"SPEF2","c":6,"v":0.84},{"g":"SPEF2","c":7,"v":0.84},{"g":"SPEF2","c":8,"v":0.78},{"g":"SPEF2","c":9,"v":0.83},{"g":"SPEF2","c":10,"v":0.72},{"g":"SPEF2","c":11,"v":0.7},{"g":"SPEF2","c":12,"v":0.7},
{"g":"RDH10","c":1,"v":1},{"g":"RDH10","c":2,"v":1},{"g":"RDH10","c":3,"v":1},{"g":"RDH10","c":4,"v":0.95},{"g":"RDH10","c":5,"v":0.96},{"g":"RDH10","c":6,"v":0.96},{"g":"RDH10","c":7,"v":0.97},{"g":"RDH10","c":8,"v":0.98},{"g":"RDH10","c":9,"v":0.98},{"g":"RDH10","c":10,"v":0.93},{"g":"RDH10","c":11,"v":0.94},{"g":"RDH10","c":12,"v":0.93},
{"g":"OCIAD2","c":1,"v":1},{"g":"OCIAD2","c":2,"v":1},{"g":"OCIAD2","c":3,"v":1},{"g":"OCIAD2","c":4,"v":0.95},{"g":"OCIAD2","c":5,"v":0.96},{"g":"OCIAD2","c":6,"v":0.95},{"g":"OCIAD2","c":7,"v":1.12},{"g":"OCIAD2","c":8,"v":1.11},{"g":"OCIAD2","c":9,"v":1.11},{"g":"OCIAD2","c":10,"v":1.05},{"g":"OCIAD2","c":11,"v":1.06},{"g":"OCIAD2","c":12,"v":1.05},
{"g":"LOXL4","c":1,"v":1},{"g":"LOXL4","c":2,"v":1},{"g":"LOXL4","c":3,"v":1},{"g":"LOXL4","c":4,"v":0.96},{"g":"LOXL4","c":5,"v":0.96},{"g":"LOXL4","c":6,"v":0.96},{"g":"LOXL4","c":7,"v":1},{"g":"LOXL4","c":8,"v":1},{"g":"LOXL4","c":9,"v":1},{"g":"LOXL4","c":10,"v":0.95},{"g":"LOXL4","c":11,"v":0.95},{"g":"LOXL4","c":12,"v":0.95},
{"g":"MMP11","c":1,"v":1},{"g":"MMP11","c":2,"v":1},{"g":"MMP11","c":3,"v":1},{"g":"MMP11","c":4,"v":0.94},{"g":"MMP11","c":5,"v":0.94},{"g":"MMP11","c":6,"v":0.9},{"g":"MMP11","c":7,"v":0.9},{"g":"MMP11","c":8,"v":0.87},{"g":"MMP11","c":9,"v":0.87},{"g":"MMP11","c":10,"v":0.85},{"g":"MMP11","c":11,"v":0.85},{"g":"MMP11","c":12,"v":0.85},
{"g":"NOSTRIN","c":1,"v":0.98},{"g":"NOSTRIN","c":2,"v":1},{"g":"NOSTRIN","c":3,"v":1.01},{"g":"NOSTRIN","c":4,"v":0.87},{"g":"NOSTRIN","c":5,"v":0.98},{"g":"NOSTRIN","c":6,"v":0.92},{"g":"NOSTRIN","c":7,"v":1.11},{"g":"NOSTRIN","c":8,"v":1.17},{"g":"NOSTRIN","c":9,"v":1.11},{"g":"NOSTRIN","c":10,"v":1.05},{"g":"NOSTRIN","c":11,"v":1.03},{"g":"NOSTRIN","c":12,"v":1.05},
{"g":"COCH","c":1,"v":1},{"g":"COCH","c":2,"v":1},{"g":"COCH","c":3,"v":1},{"g":"COCH","c":4,"v":0.85},{"g":"COCH","c":5,"v":0.86},{"g":"COCH","c":6,"v":0.85},{"g":"COCH","c":7,"v":1},{"g":"COCH","c":8,"v":1},{"g":"COCH","c":9,"v":1},{"g":"COCH","c":10,"v":0.96},{"g":"COCH","c":11,"v":0.97},{"g":"COCH","c":12,"v":0.96},
{"g":"GALNT16","c":1,"v":1.02},{"g":"GALNT16","c":2,"v":1},{"g":"GALNT16","c":3,"v":1},{"g":"GALNT16","c":4,"v":0.89},{"g":"GALNT16","c":5,"v":0.89},{"g":"GALNT16","c":6,"v":0.89},{"g":"GALNT16","c":7,"v":0.87},{"g":"GALNT16","c":8,"v":0.86},{"g":"GALNT16","c":9,"v":0.86},{"g":"GALNT16","c":10,"v":0.8},{"g":"GALNT16","c":11,"v":0.83},{"g":"GALNT16","c":12,"v":0.83},
{"g":"PHACTR1","c":1,"v":1},{"g":"PHACTR1","c":2,"v":1},{"g":"PHACTR1","c":3,"v":1},{"g":"PHACTR1","c":4,"v":1},{"g":"PHACTR1","c":5,"v":0.99},{"g":"PHACTR1","c":6,"v":0.99},{"g":"PHACTR1","c":7,"v":0.86},{"g":"PHACTR1","c":8,"v":0.86},{"g":"PHACTR1","c":9,"v":0.86},{"g":"PHACTR1","c":10,"v":0.86},{"g":"PHACTR1","c":11,"v":0.82},{"g":"PHACTR1","c":12,"v":0.82},
{"g":"CDH3","c":1,"v":0.96},{"g":"CDH3","c":2,"v":1.02},{"g":"CDH3","c":3,"v":1.04},{"g":"CDH3","c":4,"v":0.91},{"g":"CDH3","c":5,"v":0.92},{"g":"CDH3","c":6,"v":0.92},{"g":"CDH3","c":7,"v":0.99},{"g":"CDH3","c":8,"v":0.97},{"g":"CDH3","c":9,"v":0.98},{"g":"CDH3","c":10,"v":0.91},{"g":"CDH3","c":11,"v":0.91},{"g":"CDH3","c":12,"v":0.93},
{"g":"SULF2","c":1,"v":1},{"g":"SULF2","c":2,"v":1},{"g":"SULF2","c":3,"v":1},{"g":"SULF2","c":4,"v":0.92},{"g":"SULF2","c":5,"v":0.93},{"g":"SULF2","c":6,"v":0.93},{"g":"SULF2","c":7,"v":0.9},{"g":"SULF2","c":8,"v":0.9},{"g":"SULF2","c":9,"v":0.9},{"g":"SULF2","c":10,"v":0.88},{"g":"SULF2","c":11,"v":0.88},{"g":"SULF2","c":12,"v":0.88}],
"genesL":[{"g":"IL1B"},{"g":"IL1A"},{"g":"ELF3"},{"g":"MIR146A"},{"g":"CXCL2"},{"g":"CHI3L1"},{"g":"UBD"},{"g":"CXCL3"},{"g":"IL13RA2"},{"g":"KYNU"},{"g":"ZP4"},{"g":"CXCL1"},{"g":"C3"},{"g":"COL8A1"},{"g":"GPR37L1"},{"g":"C15orf48"},{"g":"CXCL8"},{"g":"IL6"},{"g":"NFKBIZ"},{"g":"GLP2R"},{"g":"TNFSF14"},{"g":"LRRC38"},{"g":"IL17C"},{"g":"SLCO2B1"},{"g":"ZC3H12A"},{"g":"C1OTNF1"},{"g":"KRTAP10-2"},{"g":"BIRC3"},{"g":"CSF2"},{"g":"SOD2"},{"g":"MMP3"},{"g":"GKN1"},{"g":"LY6H"},{"g":"SLC6A17"},{"g":"ANKRD20A1"},{"g":"CEMIP"},{"g":"DUOXA1"},{"g":"BARHL1"},{"g":"CXCL10"},{"g":"ICAM1"},{"g":"VNN1"},{"g":"IL37"},{"g":"TFPI2"},{"g":"CD3D"},{"g":"OLR1"},{"g":"NR4A3"},{"g":"C8orf4"},{"g":"ASB5"},{"g":"MMP10"},{"g":"TMEM132A"}],
"genesR":[{"g":"SULF1"},{"g":"SERPING1"},{"g":"ADAMTS8"},{"g":"EXTL1"},{"g":"HEYL"},{"g":"RHOJ"},{"g":"FCGR2A"},{"g":"NRTN"},{"g":"RAMP1"},{"g":"SMPD3"},{"g":"ABCB1"},{"g":"UTRN"},{"g":"TNFSF10"},{"g":"BNC2"},{"g":"MEST"},{"g":"FOXL1"},{"g":"C11orf63"},{"g":"HBD"},{"g":"TMEM130"},{"g":"NPAS1"},{"g":"KRT17"},{"g":"LAMA4"},{"g":"NUPR1"},{"g":"BMF"},{"g":"SPINT1"},{"g":"VSTM2L"},{"g":"CD14"},{"g":"ART5"},{"g":"SNAI1"},{"g":"SPINT2"},{"g":"MEDAG"},{"g":"ZNF853"},{"g":"RAG1"},{"g":"LRCOL1"},{"g":"MBOAT1"},{"g":"SLC43A1"},{"g":"CDH6"},{"g":"IL7R"},{"g":"MDK"},{"g":"SPEF2"},{"g":"RDH10"},{"g":"OCIAD2"},{"g":"LOXL4"},{"g":"MMP11"},{"g":"NOSTRIN"},{"g":"COCH"},{"g":"GALNT16"},{"g":"PHACTR1"},{"g":"CDH3"},{"g":"SULF2"}],
"groups":[{"t":"Control","col":1.28,"line":1.5},{"t":"infection","col":4.28,"line":2},{"t":"Empty","col":7.27,"line":1},{"t":"vector","col":7.27,"line":2},{"t":"Full-Cdg7_","col":10.33,"line":1},{"t":"FLc_1000","col":10.33,"line":2}],
"groupRules":[{"start":0,"end":2.46,"line":2.6},{"start":3.01,"end":5.5,"line":2.6},{"start":6.04,"end":8.52,"line":2.6},{"start":9.06,"end":11.68,"line":2.6}],
"intA":[{"gene":"CXCL2","cond":"Control","value":1.05,"top":1.1},{"gene":"CXCL2","cond":"Infection","value":3.75,"top":3.98,"sig":"**"},{"gene":"IL6","cond":"Control","value":1.05,"top":1.06},{"gene":"IL6","cond":"Infection","value":1.56,"top":1.73,"sig":"*"},{"gene":"NFKBIZ","cond":"Control","value":1.05,"top":1.1},{"gene":"NFKBIZ","cond":"Infection","value":3.4,"top":3.54,"sig":"**"},{"gene":"SMPD3","cond":"Control","value":1.03,"top":1.15},{"gene":"SMPD3","cond":"Infection","value":0.2,"top":0.28,"sig":"**"},{"gene":"LOXL4","cond":"Control","value":1.03,"top":1.13},{"gene":"LOXL4","cond":"Infection","value":0.6,"top":0.69,"sig":"**"},{"gene":"CDH3","cond":"Control","value":1.03,"top":1.1},{"gene":"CDH3","cond":"Infection","value":0.52,"top":0.58,"sig":"**"}],
"intB":[{"gene":"CXCL2","cond":"Empty vector","value":1,"top":1.22},{"gene":"CXCL2","cond":"Full-Cdg7_FLc_1000","value":2.52,"top":2.8,"sig":"**"},{"gene":"IL6","cond":"Empty vector","value":1,"top":1.1},{"gene":"IL6","cond":"Full-Cdg7_FLc_1000","value":2.11,"top":2.32,"sig":"**"},{"gene":"NFKBIZ","cond":"Empty vector","value":1,"top":1.03},{"gene":"NFKBIZ","cond":"Full-Cdg7_FLc_1000","value":1.74,"top":1.95,"sig":"*"},{"gene":"SMPD3","cond":"Empty vector","value":1,"top":1.1},{"gene":"SMPD3","cond":"Full-Cdg7_FLc_1000","value":0.55,"top":0.61,"sig":"**"},{"gene":"LOXL4","cond":"Empty vector","value":1.03,"top":1.13},{"gene":"LOXL4","cond":"Full-Cdg7_FLc_1000","value":0.6,"top":0.69,"sig":"*"},{"gene":"CDH3","cond":"Empty vector","value":1,"top":1.1},{"gene":"CDH3","cond":"Full-Cdg7_FLc_1000","value":0.63,"top":0.72,"sig":"**"}],
"hctA":[{"gene":"CXCL2","cond":"Control","value":1.01,"top":1.15},{"gene":"CXCL2","cond":"Infection","value":3.78,"top":4.15,"sig":"**"},{"gene":"IL6","cond":"Control","value":1.01,"top":1.18},{"gene":"IL6","cond":"Infection","value":4.27,"top":4.63,"sig":"**"},{"gene":"NFkBIZ","cond":"Control","value":1.01,"top":1.15},{"gene":"NFkBIZ","cond":"Infection","value":3.26,"top":3.58,"sig":"**"},{"gene":"SMPD3","cond":"Control","value":1.01,"top":1.3},{"gene":"SMPD3","cond":"Infection","value":0.47,"top":0.57,"sig":"**"},{"gene":"LOXL4","cond":"Control","value":1,"top":1.13},{"gene":"LOXL4","cond":"Infection","value":0.6,"top":0.81,"sig":"**"},{"gene":"CDH3","cond":"Control","value":1,"top":1.07},{"gene":"CDH3","cond":"Infection","value":0.5,"top":0.56,"sig":"*"}],
"hctB":[{"gene":"CXCL2","cond":"Empty vector","value":1,"top":1.26},{"gene":"CXCL2","cond":"Full-Cdg7_FLc_1000","value":3.4,"top":3.87,"sig":"*"},{"gene":"IL6","cond":"Empty vector","value":1,"top":1.48},{"gene":"IL6","cond":"Full-Cdg7_FLc_1000","value":2.63,"top":2.79,"sig":"*"},{"gene":"NFkBIZ","cond":"Empty vector","value":1,"top":1.42},{"gene":"NFkBIZ","cond":"Full-Cdg7_FLc_1000","value":3.53,"top":3.78,"sig":"*"},{"gene":"SMPD3","cond":"Empty vector","value":1,"top":1.36},{"gene":"SMPD3","cond":"Full-Cdg7_FLc_1000","value":0.39,"top":0.51,"sig":"*"},{"gene":"LOXL4","cond":"Empty vector","value":1,"top":1.19},{"gene":"LOXL4","cond":"Full-Cdg7_FLc_1000","value":0.58,"top":0.85,"sig":"**"},{"gene":"CDH3","cond":"Empty vector","value":1,"top":1.15},{"gene":"CDH3","cond":"Full-Cdg7_FLc_1000","value":0.52,"top":0.64,"sig":"*"}]},
"vconcat":[
{"width":794,"height":205,"encoding":{"x":{"field":"x","type":"quantitative","scale":{"domain":[0,198.5],"nice":false,"zero":false},"axis":null},"y":{"field":"y","type":"quantitative","scale":{"domain":[0,51.25],"reverse":true,"nice":false,"zero":false},"axis":null}},
"layer":[
{"data":{"values":[{"x":21.675,"y":15.575,"x2":28.425,"y2":21.175},{"x":74.325,"y":15.575,"x2":67.425,"y2":23.75},{"x":99.75,"y":16.6,"x2":106.5,"y2":22.325},{"x":153.425,"y":15.825,"x2":146.5,"y2":21.325}]},"mark":{"type":"rule","color":"#555","strokeWidth":1},"encoding":{"x2":{"field":"x2"},"y2":{"field":"y2"}}},
{"data":{"values":[{"set":"up-inf","x":41.175,"y":32.25},{"set":"down-inf","x":120.3,"y":32.25}]},"mark":{"type":"point","filled":true,"shape":"circle","opacity":1,"stroke":"#111","strokeWidth":2.2},"encoding":{"fill":{"field":"set","type":"nominal","scale":{"domain":["up-inf","up-full","down-inf","down-full"],"range":["#F58634","#EE5D68","#B5CC05","#A7B4DC"]},"legend":null},"size":{"field":"set","type":"nominal","scale":{"type":"ordinal","domain":["up-inf","up-full","down-inf","down-full"],"range":[14400,8372,14400,8243]},"legend":null}}},
{"data":{"values":[{"set":"up-full","x":57.175,"y":32.175},{"set":"down-full","x":137.575,"y":32.175}]},"mark":{"type":"point","filled":true,"shape":"circle","opacity":1,"stroke":null},"encoding":{"fill":{"field":"set","type":"nominal","scale":{"domain":["up-inf","up-full","down-inf","down-full"],"range":["#F58634","#EE5D68","#B5CC05","#A7B4DC"]},"legend":null},"size":{"field":"set","type":"nominal","scale":{"type":"ordinal","domain":["up-inf","up-full","down-inf","down-full"],"range":[14400,8372,14400,8243]},"legend":null}}},
{"data":{"values":[{"x":52.125,"y":32.25}]},"mark":{"type":"point","filled":true,"size":10000,"opacity":1,"fill":"#E62E14","stroke":"#8A1A10","strokeWidth":2,"shape":"M0 -0.82A1.2 1.2 0 0 1 0 0.82A0.915 0.915 0 0 1 0 -0.82Z"}},
{"data":{"values":[{"x":131.725,"y":32.25}]},"mark":{"type":"point","filled":true,"size":10000,"opacity":1,"fill":"#6F9E98","stroke":"#26347A","strokeWidth":2,"shape":"M0 -0.778A1.2 1.2 0 0 1 0 0.778A0.908 0.908 0 0 1 0 -0.778Z"}},
{"data":{"values":[{"set":"up-full","x":57.175,"y":32.175},{"set":"down-full","x":137.575,"y":32.175}]},"mark":{"type":"point","filled":false,"shape":"circle","opacity":1,"stroke":"#111","strokeWidth":2.2},"encoding":{"size":{"field":"set","type":"nominal","scale":{"type":"ordinal","domain":["up-inf","up-full","down-inf","down-full"],"range":[14400,8372,14400,8243]},"legend":null}}},
{"data":{"values":[{"t":"1888","x":36,"y":33.3},{"t":"180","x":50.7,"y":33.3},{"t":"576","x":61.75,"y":33.3},{"t":"2173","x":114.4,"y":33.3},{"t":"119","x":130.3,"y":33.3},{"t":"534","x":141.8,"y":33.3},{"t":"Upregulated genes","x":49.4,"y":3.1},{"t":"Downregulated genes","x":127.75,"y":3.1},{"t":"Full-Cdg7-FLc-1000","x":70.6,"y":11.5},{"t":"Full-Cdg7-FLc-1000","x":154.4,"y":11.5}]},"mark":{"type":"text","align":"center","baseline":"middle","fontSize":15},"encoding":{"text":{"field":"t"}}},
{"data":{"values":[{"t":"C. parvum","x":11.8,"y":11.5},{"t":"C. parvum","x":97.1,"y":11.5}]},"mark":{"type":"text","align":"left","baseline":"middle","fontSize":13.5,"fontStyle":"italic"},"encoding":{"text":{"field":"t"}}},
{"data":{"values":[{"t":"infection","x":26.5,"y":11.5},{"t":"infection","x":111.8,"y":11.5}]},"mark":{"type":"text","align":"left","baseline":"middle","fontSize":15},"encoding":{"text":{"field":"t"}}},
{"data":{"values":[{"t":"A","x":0.2,"y":3.1},{"t":"B","x":0.2,"y":55.5}]},"mark":{"type":"text","align":"left","baseline":"middle","fontSize":18},"encoding":{"text":{"field":"t"}}}
]},
{"hconcat":[
{"width":38.3,"height":81.5,"data":{"values":[{"s":1}]},"mark":{"type":"rect","opacity":0},"encoding":{}},
{"width":290,"height":81.5,"encoding":{"y":{"field":"line","type":"quantitative","scale":{"domain":[-0.611,3.917],"reverse":true,"nice":false,"zero":false},"axis":null}},"layer":[
{"data":{"name":"groups"},"mark":{"type":"text","baseline":"middle","align":"center","fontSize":15},"encoding":{"x":{"field":"col","type":"quantitative","scale":{"domain":[0,12],"nice":false},"axis":null},"text":{"field":"t"}}},
{"data":{"values":[{"t":"C. parvum","col":4.28,"line":1}]},"mark":{"type":"text","baseline":"middle","align":"center","fontSize":14,"fontStyle":"italic"},"encoding":{"x":{"field":"col","type":"quantitative"},"text":{"field":"t"}}},
{"data":{"name":"groupRules"},"mark":{"type":"rule","color":"#444","strokeWidth":1},"encoding":{"x":{"field":"start","type":"quantitative"},"x2":{"field":"end"}}}
]},
{"width":114.4,"height":81.5,"data":{"values":[{"s":1}]},"mark":{"type":"rect","opacity":0},"encoding":{}},
{"width":290,"height":81.5,"encoding":{"y":{"field":"line","type":"quantitative","scale":{"domain":[-0.611,3.917],"reverse":true,"nice":false,"zero":false},"axis":null}},"layer":[
{"data":{"name":"groups"},"mark":{"type":"text","baseline":"middle","align":"center","fontSize":15},"encoding":{"x":{"field":"col","type":"quantitative","scale":{"domain":[0,12],"nice":false},"axis":null},"text":{"field":"t"}}},
{"data":{"values":[{"t":"C. parvum","col":4.28,"line":1}]},"mark":{"type":"text","baseline":"middle","align":"center","fontSize":14,"fontStyle":"italic"},"encoding":{"x":{"field":"col","type":"quantitative"},"text":{"field":"t"}}},
{"data":{"name":"groupRules"},"mark":{"type":"rule","color":"#444","strokeWidth":1},"encoding":{"x":{"field":"start","type":"quantitative"},"x2":{"field":"end"}}}
]}
],"spacing":0,"bounds":"flush"},
{"width":794,"height":81.5,"data":{"values":[{"s":1}]},"mark":{"type":"rect","opacity":0},"encoding":{}},
{"hconcat":[
{"width":38.3,"height":615,"data":{"values":[{"s":1}]},"mark":{"type":"rect","opacity":0},"encoding":{}},
{"width":290,"height":615,"data":{"name":"heatL"},"mark":{"type":"rect","strokeWidth":0.8},"encoding":{"x":{"field":"c","type":"ordinal","scale":{"domain":[1,2,3,4,5,6,7,8,9,10,11,12],"paddingInner":0,"paddingOuter":0},"axis":{"orient":"top","title":null,"ticks":false,"domain":false,"labelAngle":0,"labelFontSize":14,"labelPadding":4,"labelExpr":"'−' + ((datum.value-1)%3+1)"}},"y":{"field":"g","type":"nominal","sort":null,"scale":{"domain":["IL1B","IL1A","ELF3","MIR146A","CXCL2","CHI3L1","UBD","CXCL3","IL13RA2","KYNU","ZP4","CXCL1","C3","COL8A1","GPR37L1","C15orf48","CXCL8","IL6","NFKBIZ","GLP2R","TNFSF14","LRRC38","IL17C","SLCO2B1","ZC3H12A","C1OTNF1","KRTAP10-2","BIRC3","CSF2","SOD2","MMP3","GKN1","LY6H","SLC6A17","ANKRD20A1","CEMIP","DUOXA1","BARHL1","CXCL10","ICAM1","VNN1","IL37","TFPI2","CD3D","OLR1","NR4A3","C8orf4","ASB5","MMP10","TMEM132A"]},"axis":null},"fill":{"field":"v","type":"quantitative","scale":{"domain":[0,0.35,0.6,0.8,1,1.05,1.12,1.2],"range":["#6DB92E","#07A23C","#0D7038","#24492A","#12120E","#3A1512","#8A1414","#E30A17"],"clamp":true},"legend":null},"stroke":{"field":"v","type":"quantitative","scale":{"domain":[0,0.35,0.6,0.8,1,1.05,1.12,1.2],"range":["#6DB92E","#07A23C","#0D7038","#24492A","#12120E","#3A1512","#8A1414","#E30A17"],"clamp":true},"legend":null}}},
{"width":65.7,"height":615,"data":{"name":"genesL"},"mark":{"type":"rect","fill":"#F6FAFD"},"encoding":{"y":{"field":"g","type":"nominal","sort":null,"scale":{"range":[3.1,615]},"axis":{"orient":"left","title":null,"ticks":false,"domain":false,"labelAlign":"left","labelPadding":-3.4,"labelFontSize":9.5,"labelColor":"#444","labelOverlap":false,"zindex":1}}}},
{"width":47.7,"height":615,"data":{"values":[{"s":1}]},"mark":{"type":"rect","opacity":0},"encoding":{}},
{"width":290,"height":615,"data":{"name":"heatR"},"mark":{"type":"rect","strokeWidth":0.8},"encoding":{"x":{"field":"c","type":"ordinal","scale":{"domain":[1,2,3,4,5,6,7,8,9,10,11,12],"paddingInner":0,"paddingOuter":0},"axis":{"orient":"top","title":null,"ticks":false,"domain":false,"labelAngle":0,"labelFontSize":14,"labelPadding":4,"labelExpr":"'−' + ((datum.value-1)%3+1)"}},"y":{"field":"g","type":"nominal","sort":null,"scale":{"domain":["SULF1","SERPING1","ADAMTS8","EXTL1","HEYL","RHOJ","FCGR2A","NRTN","RAMP1","SMPD3","ABCB1","UTRN","TNFSF10","BNC2","MEST","FOXL1","C11orf63","HBD","TMEM130","NPAS1","KRT17","LAMA4","NUPR1","BMF","SPINT1","VSTM2L","CD14","ART5","SNAI1","SPINT2","MEDAG","ZNF853","RAG1","LRCOL1","MBOAT1","SLC43A1","CDH6","IL7R","MDK","SPEF2","RDH10","OCIAD2","LOXL4","MMP11","NOSTRIN","COCH","GALNT16","PHACTR1","CDH3","SULF2"]},"axis":null},"fill":{"field":"v","type":"quantitative","scale":{"domain":[0,0.35,0.6,0.8,1,1.05,1.12,1.2],"range":["#6DB92E","#07A23C","#0D7038","#24492A","#12120E","#3A1512","#8A1414","#E30A17"],"clamp":true},"legend":null},"stroke":{"field":"v","type":"quantitative","scale":{"domain":[0,0.35,0.6,0.8,1,1.05,1.12,1.2],"range":["#6DB92E","#07A23C","#0D7038","#24492A","#12120E","#3A1512","#8A1414","#E30A17"],"clamp":true},"legend":null}}},
{"width":60.3,"height":615,"data":{"name":"genesR"},"mark":{"type":"rect","fill":"#F6FAFD"},"encoding":{"y":{"field":"g","type":"nominal","sort":null,"axis":{"orient":"left","title":null,"ticks":false,"domain":false,"labelAlign":"left","labelPadding":-7.3,"labelFontSize":9.5,"labelColor":"#444","labelOverlap":false,"zindex":1}}}}
],"spacing":0,"bounds":"flush"},
{"width":794,"height":619.2,"data":{"values":[{"s":1}]},"mark":{"type":"rect","opacity":0},"encoding":{}},
{"hconcat":[
{"width":38.3,"height":10,"data":{"values":[{"s":1}]},"mark":{"type":"rect","opacity":0},"encoding":{}},
{"width":290,"height":10,"data":{"values":[{"from":-0.0156,"to":1.3}]},"mark":{"type":"rect","fill":{"gradient":"linear","x1":0,"y1":0,"x2":1,"y2":0,"stops":[{"offset":0,"color":"#6DB92E"},{"offset":0.1,"color":"#3FAE33"},{"offset":0.2,"color":"#00A03C"},{"offset":0.27,"color":"#008039"},{"offset":0.35,"color":"#1F5A30"},{"offset":0.42,"color":"#1D2E1C"},{"offset":0.52,"color":"#0F0F0C"},{"offset":0.6,"color":"#2A1310"},{"offset":0.75,"color":"#7A1412"},{"offset":0.88,"color":"#B81216"},{"offset":1,"color":"#E30A17"}]}},"encoding":{"x":{"field":"from","type":"quantitative","scale":{"domain":[-0.0156,1,1.2,1.3],"range":[0,156.4,272.4,290],"nice":false,"zero":false},"axis":{"orient":"bottom","title":null,"values":[0,1,1.2],"format":".1f","ticks":false,"domain":false,"labelFontSize":15,"labelPadding":5}},"x2":{"field":"to"}}},
{"width":112.7,"height":10,"data":{"values":[{"s":1}]},"mark":{"type":"rect","opacity":0},"encoding":{}},
{"width":291,"height":10,"data":{"values":[{"from":-0.03,"to":1.3}]},"mark":{"type":"rect","fill":{"gradient":"linear","x1":0,"y1":0,"x2":1,"y2":0,"stops":[{"offset":0,"color":"#6DB92E"},{"offset":0.1,"color":"#3FAE33"},{"offset":0.2,"color":"#00A03C"},{"offset":0.27,"color":"#008039"},{"offset":0.35,"color":"#1F5A30"},{"offset":0.42,"color":"#1D2E1C"},{"offset":0.52,"color":"#0F0F0C"},{"offset":0.6,"color":"#2A1310"},{"offset":0.75,"color":"#7A1412"},{"offset":0.88,"color":"#B81216"},{"offset":1,"color":"#E30A17"}]}},"encoding":{"x":{"field":"from","type":"quantitative","scale":{"domain":[-0.03,1,1.2,1.3],"range":[0,159.7,275.7,291],"nice":false,"zero":false},"axis":{"orient":"bottom","title":null,"values":[0,1,1.2],"format":".1f","ticks":false,"domain":false,"labelFontSize":15,"labelPadding":5}},"x2":{"field":"to"}}}
],"spacing":0,"bounds":"flush"},
{"width":794,"height":10,"data":{"values":[{"s":1}]},"mark":{"type":"rect","opacity":0},"encoding":{}},
{"width":794,"height":101,"encoding":{"x":{"field":"x","type":"quantitative","scale":{"domain":[0,198.5],"nice":false,"zero":false},"axis":null},"y":{"field":"y","type":"quantitative","scale":{"domain":[0,25.25],"reverse":true,"nice":false,"zero":false},"axis":null}},"layer":[
{"data":{"values":[{"t":"C","x":0.2,"y":14.1}]},"mark":{"type":"text","align":"left","baseline":"middle","fontSize":18},"encoding":{"text":{"field":"t"}}},
{"data":{"values":[{"t":"INT Cells","x":12.75,"y":17.15},{"t":"Control","x":42.75,"y":19.95},{"t":"Infection","x":62.25,"y":19.95},{"t":"Empty","x":121.9,"y":20.55},{"t":"vector","x":121.9,"y":25},{"t":"Full-Cdg7_","x":140.75,"y":20.55},{"t":"FLc_1000","x":140.75,"y":24.85}]},"mark":{"type":"text","align":"left","baseline":"middle","fontSize":15},"encoding":{"text":{"field":"t"}}},
{"data":{"values":[{"x":38.9,"y":19.83},{"x":118.3,"y":20.25}]},"mark":{"type":"point","shape":"square","size":210,"filled":true,"fill":"#FFFFFF","stroke":"#444","strokeWidth":1.5,"opacity":1}},
{"data":{"values":[{"x":59.7,"y":19.83},{"x":137.4,"y":20.25}]},"mark":{"type":"point","shape":"square","size":210,"filled":true,"fill":"#12120E","stroke":"#12120E","strokeWidth":1.5,"opacity":1}}
]},
{"hconcat":[
{"width":112.7,"height":137,"data":{"values":[{"s":1}]},"mark":{"type":"rect","opacity":0},"encoding":{}},
{"width":222.3,"height":137,"data":{"name":"intA"},"encoding":{"x":{"field":"gene","type":"nominal","sort":null,"scale":{"domain":["CXCL2","IL6","NFKBIZ","SMPD3","LOXL4","CDH3"],"range":[3,215],"paddingInner":0.2,"paddingOuter":0.1},"axis":{"title":null,"labels":false,"ticks":false,"domain":false}},"y":{"field":"value","type":"quantitative","scale":{"domain":[0,5],"nice":false},"axis":{"title":"Ratio of RNA levels","titleFontSize":15.5,"titlePadding":14,"values":[0,1,2,3,4,5],"tickSize":6.7,"tickWidth":1.2,"domainWidth":1.2,"labelFontSize":16,"labelPadding":3}}},"layer":[
{"transform":[{"filter":"!datum.sig"}],"mark":{"type":"rule","color":"#333","strokeWidth":1.3,"xOffset":-7.05},"encoding":{"y2":{"field":"top"}}},
{"transform":[{"filter":"datum.sig"}],"mark":{"type":"rule","color":"#333","strokeWidth":1.3,"xOffset":7.05},"encoding":{"y2":{"field":"top"}}},
{"transform":[{"filter":"!datum.sig"}],"mark":{"type":"tick","color":"#333","size":14,"thickness":1.3,"xOffset":-7.05},"encoding":{"y":{"field":"top","type":"quantitative"}}},
{"transform":[{"filter":"datum.sig"}],"mark":{"type":"tick","color":"#333","size":14,"thickness":1.3,"xOffset":7.05},"encoding":{"y":{"field":"top","type":"quantitative"}}},
{"transform":[{"filter":"!datum.sig"}],"mark":{"type":"bar","width":13,"strokeWidth":1.4,"fill":"#FFFFFF","stroke":"#555555","xOffset":-7.05}},
{"transform":[{"filter":"datum.sig"}],"mark":{"type":"bar","width":13,"strokeWidth":1.4,"fill":"#12120E","stroke":"#12120E","xOffset":7.05}},
{"transform":[{"filter":"datum.sig"}],"mark":{"type":"text","baseline":"alphabetic","fontSize":13,"color":"#555","xOffset":7.05},"encoding":{"y":{"field":"top","type":"quantitative"},"text":{"field":"sig"}}},
{"data":{"values":[{"base":0}]},"mark":{"type":"rule","color":"#333","strokeWidth":1.2},"encoding":{"x":null,"y":{"field":"base","type":"quantitative"}}}
]},
{"width":101,"height":137,"data":{"values":[{"s":1}]},"mark":{"type":"rect","opacity":0},"encoding":{}},
{"width":203,"height":137,"data":{"name":"intB"},"encoding":{"x":{"field":"gene","type":"nominal","sort":null,"scale":{"domain":["CXCL2","IL6","NFKBIZ","SMPD3","LOXL4","CDH3"],"range":[3,195.3],"paddingInner":0.1,"paddingOuter":0.05},"axis":{"title":null,"labels":false,"ticks":false,"domain":false}},"y":{"field":"value","type":"quantitative","scale":{"domain":[0,5],"nice":false},"axis":{"title":"Ratio of RNA levels","titleFontSize":15.5,"titlePadding":10,"values":[0,1,2,3,4,5],"tickSize":6.7,"tickWidth":1.2,"domainWidth":1.2,"labelFontSize":16,"labelPadding":3}}},"layer":[
{"transform":[{"filter":"!datum.sig"}],"mark":{"type":"rule","color":"#333","strokeWidth":1.3,"xOffset":-7.2},"encoding":{"y2":{"field":"top"}}},
{"transform":[{"filter":"datum.sig"}],"mark":{"type":"rule","color":"#333","strokeWidth":1.3,"xOffset":7.2},"encoding":{"y2":{"field":"top"}}},
{"transform":[{"filter":"!datum.sig"}],"mark":{"type":"tick","color":"#333","size":14,"thickness":1.3,"xOffset":-7.2},"encoding":{"y":{"field":"top","type":"quantitative"}}},
{"transform":[{"filter":"datum.sig"}],"mark":{"type":"tick","color":"#333","size":14,"thickness":1.3,"xOffset":7.2},"encoding":{"y":{"field":"top","type":"quantitative"}}},
{"transform":[{"filter":"!datum.sig"}],"mark":{"type":"bar","width":13,"strokeWidth":1.4,"fill":"#FFFFFF","stroke":"#555555","xOffset":-7.2}},
{"transform":[{"filter":"datum.sig"}],"mark":{"type":"bar","width":13,"strokeWidth":1.4,"fill":"#12120E","stroke":"#12120E","xOffset":7.2}},
{"transform":[{"filter":"datum.sig"}],"mark":{"type":"text","baseline":"alphabetic","fontSize":13,"color":"#555","xOffset":7.2},"encoding":{"y":{"field":"top","type":"quantitative"},"text":{"field":"sig"}}},
{"data":{"values":[{"base":0}]},"mark":{"type":"rule","color":"#333","strokeWidth":1.2},"encoding":{"x":null,"y":{"field":"base","type":"quantitative"}}}
]}
],"spacing":0,"bounds":"flush"},
{"width":794,"height":137,"data":{"values":[{"s":1}]},"mark":{"type":"rect","opacity":0},"encoding":{}},
{"width":794,"height":66.3,"data":{"values":[{"t":"HCT-8 Cells","x":12.75,"y":10.3}]},"mark":{"type":"text","align":"left","baseline":"middle","fontSize":15.5},"encoding":{"x":{"field":"x","type":"quantitative","scale":{"domain":[0,198.5],"nice":false,"zero":false},"axis":null},"y":{"field":"y","type":"quantitative","scale":{"domain":[0,16.575],"reverse":true,"nice":false,"zero":false},"axis":null},"text":{"field":"t"}}},
{"hconcat":[
{"width":112.7,"height":137,"data":{"values":[{"s":1}]},"mark":{"type":"rect","opacity":0},"encoding":{}},
{"width":222.3,"height":137,"data":{"name":"hctA"},"encoding":{"x":{"field":"gene","type":"nominal","sort":null,"scale":{"domain":["CXCL2","IL6","NFkBIZ","SMPD3","LOXL4","CDH3"],"range":[3,215],"paddingInner":0.2,"paddingOuter":0.1},"axis":{"title":null,"ticks":false,"domain":false,"labelAngle":-45,"labelFontSize":14.5,"labelPadding":3,"labelOffset":3,"labelColor":"#222"}},"y":{"field":"value","type":"quantitative","scale":{"domain":[0,5],"nice":false},"axis":{"title":"Ratio of RNA levels","titleFontSize":15.5,"titlePadding":14,"values":[0,1,2,3,4,5],"tickSize":6.7,"tickWidth":1.2,"domainWidth":1.2,"labelFontSize":16,"labelPadding":3}}},"layer":[
{"transform":[{"filter":"!datum.sig"}],"mark":{"type":"rule","color":"#333","strokeWidth":1.3,"xOffset":-7.05},"encoding":{"y2":{"field":"top"}}},
{"transform":[{"filter":"datum.sig"}],"mark":{"type":"rule","color":"#333","strokeWidth":1.3,"xOffset":7.05},"encoding":{"y2":{"field":"top"}}},
{"transform":[{"filter":"!datum.sig"}],"mark":{"type":"tick","color":"#333","size":14,"thickness":1.3,"xOffset":-7.05},"encoding":{"y":{"field":"top","type":"quantitative"}}},
{"transform":[{"filter":"datum.sig"}],"mark":{"type":"tick","color":"#333","size":14,"thickness":1.3,"xOffset":7.05},"encoding":{"y":{"field":"top","type":"quantitative"}}},
{"transform":[{"filter":"!datum.sig"}],"mark":{"type":"bar","width":13,"strokeWidth":1.4,"fill":"#FFFFFF","stroke":"#555555","xOffset":-7.05}},
{"transform":[{"filter":"datum.sig"}],"mark":{"type":"bar","width":13,"strokeWidth":1.4,"fill":"#12120E","stroke":"#12120E","xOffset":7.05}},
{"transform":[{"filter":"datum.sig"}],"mark":{"type":"text","baseline":"alphabetic","fontSize":13,"color":"#555","xOffset":7.05},"encoding":{"y":{"field":"top","type":"quantitative"},"text":{"field":"sig"}}},
{"data":{"values":[{"base":0}]},"mark":{"type":"rule","color":"#333","strokeWidth":1.2},"encoding":{"x":null,"y":{"field":"base","type":"quantitative"}}}
]},
{"width":101,"height":137,"data":{"values":[{"s":1}]},"mark":{"type":"rect","opacity":0},"encoding":{}},
{"width":205,"height":137,"data":{"name":"hctB"},"encoding":{"x":{"field":"gene","type":"nominal","sort":null,"scale":{"domain":["CXCL2","IL6","NFkBIZ","SMPD3","LOXL4","CDH3"],"range":[3.4,198.6],"paddingInner":0.1,"paddingOuter":0.05},"axis":{"title":null,"ticks":false,"domain":false,"labelAngle":-45,"labelFontSize":14.5,"labelPadding":3,"labelOffset":3,"labelColor":"#222"}},"y":{"field":"value","type":"quantitative","scale":{"domain":[0,5],"nice":false},"axis":{"title":"Ratio of RNA levels","titleFontSize":15.5,"titlePadding":10,"values":[0,1,2,3,4,5],"tickSize":6.7,"tickWidth":1.2,"domainWidth":1.2,"labelFontSize":16,"labelPadding":3}}},"layer":[
{"transform":[{"filter":"!datum.sig"}],"mark":{"type":"rule","color":"#333","strokeWidth":1.3,"xOffset":-7.3},"encoding":{"y2":{"field":"top"}}},
{"transform":[{"filter":"datum.sig"}],"mark":{"type":"rule","color":"#333","strokeWidth":1.3,"xOffset":7.3},"encoding":{"y2":{"field":"top"}}},
{"transform":[{"filter":"!datum.sig"}],"mark":{"type":"tick","color":"#333","size":14,"thickness":1.3,"xOffset":-7.3},"encoding":{"y":{"field":"top","type":"quantitative"}}},
{"transform":[{"filter":"datum.sig"}],"mark":{"type":"tick","color":"#333","size":14,"thickness":1.3,"xOffset":7.3},"encoding":{"y":{"field":"top","type":"quantitative"}}},
{"transform":[{"filter":"!datum.sig"}],"mark":{"type":"bar","width":13,"strokeWidth":1.4,"fill":"#FFFFFF","stroke":"#555555","xOffset":-7.3}},
{"transform":[{"filter":"datum.sig"}],"mark":{"type":"bar","width":13,"strokeWidth":1.4,"fill":"#12120E","stroke":"#12120E","xOffset":7.3}},
{"transform":[{"filter":"datum.sig"}],"mark":{"type":"text","baseline":"alphabetic","fontSize":13,"color":"#555","xOffset":7.3},"encoding":{"y":{"field":"top","type":"quantitative"},"text":{"field":"sig"}}},
{"data":{"values":[{"base":0}]},"mark":{"type":"rule","color":"#333","strokeWidth":1.2},"encoding":{"x":null,"y":{"field":"base","type":"quantitative"}}}
]}
],"spacing":0,"bounds":"flush"}
]}
